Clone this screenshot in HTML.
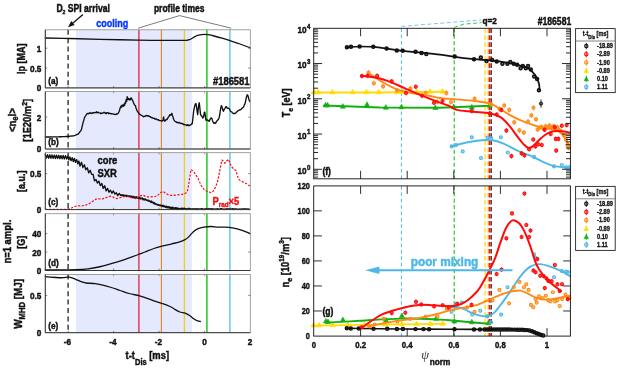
<!DOCTYPE html>
<html><head><meta charset="utf-8"><title>SPI disruption profiles #186581</title>
<style>html,body{margin:0;padding:0;background:#fff}svg{display:block}text{font-family:"Liberation Sans",Arial,sans-serif;font-weight:bold}</style>
</head><body>
<svg width="617" height="369" viewBox="0 0 617 369">
<rect width="617" height="369" fill="#fff"/>
<rect x="76.0" y="29.8" width="115.8" height="58.1" fill="#e5e9fd"/>
<line x1="138.9" x2="138.9" y1="29.8" y2="87.9" stroke="#e6304a" stroke-width="1.4"/>
<line x1="161.4" x2="161.4" y1="29.8" y2="87.9" stroke="#e6861e" stroke-width="1.15"/>
<line x1="184.4" x2="184.4" y1="29.8" y2="87.9" stroke="#e8d21c" stroke-width="1.35"/>
<line x1="206.9" x2="206.9" y1="29.8" y2="87.9" stroke="#32c832" stroke-width="1.6"/>
<line x1="229.9" x2="229.9" y1="29.8" y2="87.9" stroke="#64c8f0" stroke-width="1.5"/>
<line x1="68.1" x2="68.1" y1="29.8" y2="87.9" stroke="#222" stroke-width="1.3" stroke-dasharray="5 3.4"/>
<rect x="76.0" y="91.6" width="115.8" height="57.4" fill="#e5e9fd"/>
<line x1="138.9" x2="138.9" y1="91.6" y2="149.0" stroke="#e6304a" stroke-width="1.4"/>
<line x1="161.4" x2="161.4" y1="91.6" y2="149.0" stroke="#e6861e" stroke-width="1.15"/>
<line x1="184.4" x2="184.4" y1="91.6" y2="149.0" stroke="#e8d21c" stroke-width="1.35"/>
<line x1="206.9" x2="206.9" y1="91.6" y2="149.0" stroke="#32c832" stroke-width="1.6"/>
<line x1="229.9" x2="229.9" y1="91.6" y2="149.0" stroke="#64c8f0" stroke-width="1.5"/>
<line x1="68.1" x2="68.1" y1="91.6" y2="149.0" stroke="#222" stroke-width="1.3" stroke-dasharray="5 3.4"/>
<rect x="76.0" y="152.7" width="115.8" height="56.9" fill="#e5e9fd"/>
<line x1="138.9" x2="138.9" y1="152.7" y2="209.6" stroke="#e6304a" stroke-width="1.4"/>
<line x1="161.4" x2="161.4" y1="152.7" y2="209.6" stroke="#e6861e" stroke-width="1.15"/>
<line x1="184.4" x2="184.4" y1="152.7" y2="209.6" stroke="#e8d21c" stroke-width="1.35"/>
<line x1="206.9" x2="206.9" y1="152.7" y2="209.6" stroke="#32c832" stroke-width="1.6"/>
<line x1="229.9" x2="229.9" y1="152.7" y2="209.6" stroke="#64c8f0" stroke-width="1.5"/>
<line x1="68.1" x2="68.1" y1="152.7" y2="209.6" stroke="#222" stroke-width="1.3" stroke-dasharray="5 3.4"/>
<rect x="76.0" y="213.7" width="115.8" height="56.8" fill="#e5e9fd"/>
<line x1="138.9" x2="138.9" y1="213.7" y2="270.5" stroke="#e6304a" stroke-width="1.4"/>
<line x1="161.4" x2="161.4" y1="213.7" y2="270.5" stroke="#e6861e" stroke-width="1.15"/>
<line x1="184.4" x2="184.4" y1="213.7" y2="270.5" stroke="#e8d21c" stroke-width="1.35"/>
<line x1="206.9" x2="206.9" y1="213.7" y2="270.5" stroke="#32c832" stroke-width="1.6"/>
<line x1="229.9" x2="229.9" y1="213.7" y2="270.5" stroke="#64c8f0" stroke-width="1.5"/>
<line x1="68.1" x2="68.1" y1="213.7" y2="270.5" stroke="#222" stroke-width="1.3" stroke-dasharray="5 3.4"/>
<rect x="76.0" y="274.4" width="115.8" height="58.3" fill="#e5e9fd"/>
<line x1="138.9" x2="138.9" y1="274.4" y2="332.7" stroke="#e6304a" stroke-width="1.4"/>
<line x1="161.4" x2="161.4" y1="274.4" y2="332.7" stroke="#e6861e" stroke-width="1.15"/>
<line x1="184.4" x2="184.4" y1="274.4" y2="332.7" stroke="#e8d21c" stroke-width="1.35"/>
<line x1="206.9" x2="206.9" y1="274.4" y2="332.7" stroke="#32c832" stroke-width="1.6"/>
<line x1="229.9" x2="229.9" y1="274.4" y2="332.7" stroke="#64c8f0" stroke-width="1.5"/>
<line x1="68.1" x2="68.1" y1="274.4" y2="332.7" stroke="#222" stroke-width="1.3" stroke-dasharray="5 3.4"/>
<path d="M45.3,38.0 C49.4,38.1 60.9,38.3 70.0,38.5 C79.1,38.7 88.7,39.0 100.0,39.3 C111.3,39.6 126.3,39.9 138.0,40.1 C149.7,40.3 162.3,40.3 170.0,40.3 C177.7,40.3 181.0,40.3 184.0,40.3 C187.0,40.2 186.8,40.2 188.0,40.0 C189.2,39.8 190.0,39.5 191.0,39.0 C192.0,38.5 193.0,37.8 194.0,37.2 C195.0,36.7 196.0,36.1 197.0,35.7 C198.0,35.3 198.9,35.0 200.0,34.8 C201.1,34.6 202.5,34.4 203.8,34.4 C205.1,34.4 206.3,34.4 208.0,34.7 C209.7,35.0 211.7,35.4 214.0,36.0 C216.3,36.6 219.3,37.4 222.0,38.2 C224.7,39.0 227.0,39.7 230.0,40.7 C233.0,41.7 236.6,42.8 240.0,44.0 C243.4,45.2 248.5,47.2 250.2,47.8" fill="none" stroke="#111" stroke-width="1.3" stroke-linecap="round" />
<path d="M45.3,137.0 L45.8,137.0 L46.4,137.0 L46.9,137.0 L47.5,137.0 L48.0,137.0 L48.6,137.0 L49.1,137.0 L49.7,137.0 L50.2,136.9 L50.8,136.9 L51.3,136.9 L51.9,136.9 L52.4,136.9 L53.0,136.9 L53.5,136.9 L54.1,136.9 L54.6,136.9 L55.2,136.9 L55.7,136.9 L56.3,136.9 L56.8,136.8 L57.4,136.8 L57.9,136.8 L58.5,136.8 L59.0,136.8 L59.6,136.7 L60.1,136.7 L60.7,136.7 L61.2,136.7 L61.8,136.7 L62.3,136.6 L62.9,136.6 L63.4,136.6 L64.0,136.6 L64.5,136.6 L65.1,136.6 L65.6,136.5 L66.2,136.5 L66.7,136.5 L67.3,136.4 L67.8,136.4 L68.4,136.3 L68.9,136.3 L69.5,136.2 L70.0,136.2 L70.6,136.1 L71.1,136.1 L71.7,136.0 L72.2,136.0 L72.8,135.9 L73.3,135.9 L73.9,135.8 L74.4,135.6 L75.0,135.4 L75.5,135.1 L76.1,134.9 L76.6,134.7 L77.2,134.5 L77.7,134.2 L78.3,134.0 L78.8,133.3 L79.4,132.5 L79.9,131.8 L80.5,131.1 L81.0,130.4 L81.6,129.0 L82.1,126.6 L82.7,124.1 L83.2,122.1 L83.8,120.2 L84.3,118.3 L84.9,116.9 L85.4,116.1 L86.0,115.3 L86.5,114.2 L87.1,113.9 L87.6,113.4 L88.2,113.4 L88.7,113.8 L89.3,113.2 L89.8,112.7 L90.4,113.4 L90.9,113.0 L91.5,113.1 L92.0,113.5 L92.6,112.8 L93.1,112.9 L93.7,112.5 L94.2,112.8 L94.8,112.6 L95.3,112.7 L95.9,112.4 L96.4,111.8 L97.0,112.8 L97.5,112.7 L98.1,112.1 L98.6,112.7 L99.2,112.8 L99.7,112.9 L100.3,112.9 L100.8,113.7 L101.4,113.2 L101.9,113.2 L102.5,113.2 L103.0,112.9 L103.6,112.9 L104.1,112.3 L104.7,112.9 L105.2,112.8 L105.8,113.5 L106.3,113.5 L106.9,112.7 L107.4,112.7 L108.0,112.7 L108.5,113.6 L109.1,113.2 L109.6,113.5 L110.2,113.4 L110.7,113.7 L111.3,113.7 L111.8,113.7 L112.4,113.9 L112.9,113.9 L113.5,114.2 L114.0,114.1 L114.6,114.4 L115.1,114.4 L115.7,114.5 L116.2,114.3 L116.8,113.8 L117.3,114.0 L117.9,113.7 L118.4,112.9 L119.0,111.7 L119.5,110.5 L120.1,108.1 L120.6,107.0 L121.2,105.8 L121.7,107.2 L122.3,105.0 L122.8,105.8 L123.4,106.2 L123.9,104.1 L124.5,105.6 L125.0,102.8 L125.6,103.2 L126.1,99.6 L126.7,101.4 L127.2,96.7 L127.8,99.3 L128.3,98.4 L128.9,99.7 L129.4,99.9 L130.0,98.6 L130.5,99.7 L131.1,97.8 L131.6,98.6 L132.2,99.9 L132.7,100.5 L133.3,102.3 L133.8,103.4 L134.4,104.6 L134.9,105.4 L135.5,105.8 L136.0,108.0 L136.6,109.4 L137.1,110.8 L137.7,112.0 L138.2,111.9 L138.8,113.3 L139.3,114.1 L139.9,114.3 L140.4,114.7 L141.0,115.0 L141.5,115.4 L142.1,115.7 L142.6,116.0 L143.2,116.5 L143.7,116.8 L144.3,116.3 L144.8,116.2 L145.4,116.2 L145.9,115.6 L146.5,115.4 L147.0,115.9 L147.6,115.7 L148.1,116.1 L148.7,115.8 L149.2,116.4 L149.8,116.8 L150.4,116.6 L150.9,117.4 L151.5,117.7 L152.0,117.5 L152.6,118.1 L153.1,118.1 L153.7,118.4 L154.2,118.3 L154.8,118.9 L155.3,119.2 L155.9,118.9 L156.4,119.0 L157.0,119.6 L157.5,119.9 L158.1,119.6 L158.6,120.1 L159.2,120.5 L159.7,120.5 L160.3,120.6 L160.8,120.6 L161.4,120.8 L161.9,121.1 L162.5,121.1 L163.0,119.9 L163.6,117.0 L164.1,120.1 L164.7,121.1 L165.2,120.9 L165.8,119.9 L166.3,119.4 L166.9,119.7 L167.4,118.8 L168.0,117.7 L168.5,116.9 L169.1,116.3 L169.6,114.9 L170.2,114.6 L170.7,115.2 L171.3,114.6 L171.8,113.3 L172.4,115.5 L172.9,116.8 L173.5,118.9 L174.0,120.0 L174.6,121.0 L175.1,121.3 L175.7,121.6 L176.2,122.1 L176.8,122.5 L177.3,122.2 L177.9,122.8 L178.4,122.9 L179.0,122.4 L179.5,122.6 L180.1,123.2 L180.6,123.2 L181.2,123.6 L181.7,123.4 L182.3,123.5 L182.8,123.9 L183.4,124.6 L183.9,124.3 L184.5,124.5 L185.0,124.8 L185.6,124.9 L186.1,124.9 L186.7,125.5 L187.2,124.9 L187.8,124.7 L188.3,125.6 L188.9,125.5 L189.4,125.5 L190.0,124.9 L190.5,125.0 L191.1,124.7 L191.6,123.7 L192.2,123.8 L192.7,120.1 L193.3,114.2 L193.8,110.0 L194.4,107.6 L194.9,105.3 L195.5,103.6 L196.0,103.6 L196.6,107.3 L197.1,111.4 L197.7,114.6 L198.2,109.4 L198.8,104.3 L199.3,102.8 L199.9,108.2 L200.4,113.5 L201.0,115.5 L201.5,115.9 L202.1,116.4 L202.6,118.0 L203.2,117.4 L203.7,116.1 L204.3,112.4 L204.8,112.1 L205.4,116.7 L205.9,120.1 L206.5,120.2 L207.0,120.0 L207.6,120.0 L208.1,120.7 L208.7,120.7 L209.2,121.3 L209.8,119.9 L210.3,118.9 L210.9,118.2 L211.4,117.9 L212.0,118.8 L212.5,120.7 L213.1,122.0 L213.6,123.1 L214.2,123.2 L214.7,122.7 L215.3,123.4 L215.8,123.1 L216.4,121.6 L216.9,121.1 L217.5,120.3 L218.0,119.8 L218.6,118.9 L219.1,117.7 L219.7,115.1 L220.2,111.3 L220.8,107.9 L221.3,105.7 L221.9,106.7 L222.4,108.4 L223.0,110.5 L223.5,111.3 L224.1,109.5 L224.6,108.8 L225.2,107.8 L225.7,106.9 L226.3,106.6 L226.8,107.6 L227.4,108.3 L227.9,108.2 L228.5,108.2 L229.0,108.6 L229.6,109.3 L230.1,110.5 L230.7,111.4 L231.2,111.7 L231.8,112.0 L232.3,112.7 L232.9,113.1 L233.4,113.5 L234.0,113.8 L234.5,113.3 L235.1,113.4 L235.6,113.0 L236.2,112.5 L236.7,111.9 L237.3,111.5 L237.8,111.2 L238.4,110.4 L238.9,110.4 L239.5,110.0 L240.0,109.7 L240.6,109.7 L241.1,109.4 L241.7,108.5 L242.2,108.3 L242.8,107.6 L243.3,107.2 L243.9,106.4 L244.4,104.7 L245.0,103.8 L245.5,101.5 L246.1,98.7 L246.6,96.5 L247.2,94.8 L247.7,95.1 L248.3,96.8 L248.8,99.0 L249.4,100.8 L249.9,101.6" fill="none" stroke="#111" stroke-width="1.35" stroke-linejoin="round" stroke-linecap="round" />
<path d="M45.3,154.6 L46.4,158.1 L47.5,154.7 L48.7,158.2 L49.8,154.8 L50.9,158.3 L52.0,154.9 L53.1,158.4 L54.3,155.1 L55.4,158.5 L56.5,155.2 L57.6,158.6 L58.7,155.3 L59.9,158.7 L61.0,155.4 L62.1,158.9 L63.2,155.5 L64.3,159.0 L65.5,155.6 L66.6,159.1 L67.7,156.1 L68.8,159.9 L69.9,156.9 L71.1,160.7 L72.2,157.7 L73.3,161.5 L74.4,158.5 L75.5,162.3 L76.7,159.6 L77.8,163.8 L78.9,161.1 L80.0,166.0 L81.5,162.3 L82.9,167.5 L84.4,164.8 L85.8,169.7 L87.3,167.8 L88.7,172.8 L90.2,170.3 L91.6,174.4 L93.1,174.3 L94.5,180.9 L96.0,179.4 L97.4,183.1 L98.9,181.1 L100.3,185.6 L101.8,183.5 L103.2,188.3 L104.7,185.8 L106.1,190.8 L107.6,188.4 L109.0,192.2 L110.5,190.2 L111.9,193.2 L113.4,190.9 L114.8,194.1 L116.3,192.7 L117.7,195.6 L119.2,193.4 L120.6,195.4 L121.4,194.8 L122.1,195.9 L122.9,194.6 L123.6,195.9 L124.4,195.2 L125.1,196.0 L125.9,195.1 L126.6,196.6 L127.4,195.5 L128.1,196.6 L128.9,195.7 L129.6,196.8 L130.4,195.9 L131.1,196.8 L131.9,196.1 L132.6,197.7 L133.4,196.4 L134.1,197.8 L134.9,196.8 L135.6,198.0 L136.4,196.7 L137.1,198.3 L137.9,197.1 L138.6,198.4 L139.4,197.2 L140.1,199.0 L140.9,198.0 L141.6,198.8 L142.4,198.0 L143.1,199.9 L143.9,198.7 L144.6,200.0 L145.4,199.0 L146.1,200.3 L146.9,199.8 L147.6,200.8 L148.4,200.1 L149.1,201.4 L149.9,200.9 L150.6,202.3 L151.4,201.0 L152.1,202.7 L152.9,202.0 L153.6,203.6 L154.4,202.6 L155.1,204.4 L155.9,203.7 L156.6,204.7 L157.4,204.4 L158.1,205.4 L158.9,204.6 L159.6,205.6 L160.4,205.0 L161.1,206.1 L161.9,205.1 L162.6,206.5 L163.4,205.4 L164.1,207.0 L164.9,206.0 L165.6,207.3 L166.4,206.1 L167.1,207.9 L167.9,206.6 L168.6,207.9 L169.4,206.7 L170.1,208.5 L170.9,207.2 L171.6,208.6 L172.4,207.0 L173.1,208.6 L173.9,207.8 L174.6,208.6 L175.4,207.6 L176.1,209.2 L176.9,207.6 L177.6,209.5 L178.4,208.3 L179.1,209.1 L179.9,208.4 L180.6,209.1 L181.4,208.1 L182.1,209.5 L182.9,208.1 L183.6,209.4 L184.4,208.2 L185.1,209.4 L185.9,208.5 L186.6,209.5 L187.4,208.7 L188.1,209.3 L188.9,208.2 L189.6,209.4 L190.4,208.8 L191.1,209.3 L191.9,208.7 L192.6,209.0 L193.4,208.8 L194.1,209.2 L194.9,208.8 L195.6,209.1 L196.4,208.7 L197.1,209.5 L197.9,208.8 L198.6,209.3 L199.4,209.0 L200.1,209.2 L200.9,208.7 L201.6,209.1 L202.4,208.6 L203.1,209.5 L203.9,209.0 L204.6,209.5 L205.4,208.8 L206.1,209.4 L206.9,208.7 L207.6,209.2 L208.4,208.7 L209.1,209.4 L209.9,208.6 L210.6,209.2 L211.4,208.7 L212.1,209.5 L212.9,208.7 L213.6,209.3 L214.4,209.0 L215.1,209.3 L215.9,208.9 L216.6,209.4 L217.4,208.7 L218.1,209.3 L218.9,209.0 L219.6,209.4 L220.4,208.7 L221.1,209.1 L221.9,208.6 L222.6,209.4 L223.4,209.0 L224.1,209.5 L224.9,209.0 L225.6,209.2 L226.4,208.7 L227.1,209.4 L227.9,208.8 L228.6,209.4 L229.4,208.8 L230.1,209.2 L230.9,209.0 L231.6,209.1 L232.4,208.7 L233.1,209.5 L233.9,208.8 L234.6,209.4 L235.4,208.9 L236.1,209.2 L236.9,208.9 L237.6,209.5 L238.4,209.1 L239.1,209.3 L239.9,209.0 L240.6,209.5 L241.4,208.9 L242.1,209.3 L242.9,208.9 L243.6,209.4 L244.4,208.7 L245.1,209.3 L245.9,208.7 L246.6,209.2 L247.4,209.0 L248.1,209.1 L248.9,209.0 L249.6,209.5" fill="none" stroke="#111" stroke-width="1.35" stroke-linejoin="round" stroke-linecap="round" />
<path d="M45.3,209.4 L60.0,209.4 L66.7,209.3 L69.0,208.9 L72.0,207.8 L74.5,206.6 L77.4,205.7 L80.0,205.9 L82.8,205.7 L85.5,205.1 L88.1,204.3 L91.0,202.5 L93.5,200.7 L95.5,199.4 L97.0,198.6 L99.5,198.9 L102.4,198.9 L105.0,198.0 L107.7,197.1 L109.5,196.4 L111.3,196.2 L114.0,197.6 L116.6,198.6 L119.3,197.9 L122.0,197.1 L124.5,196.5 L127.3,196.2 L130.0,197.1 L132.7,198.0 L136.3,198.9 L138.0,197.6 L139.8,196.2 L142.5,195.0 L145.0,196.1 L147.0,196.8 L150.3,196.8 L153.5,196.6 L156.6,196.2 L158.5,194.6 L160.2,192.7 L162.8,191.4 L165.5,193.2 L167.5,194.4 L170.0,195.3 L173.5,195.3 L177.1,195.0 L180.5,194.6 L184.2,193.9 L186.0,192.9 L187.4,190.9 L188.3,186.5 L189.2,181.1 L190.1,175.0 L191.0,169.5 L192.4,170.6 L194.0,172.2 L195.8,174.8 L197.6,177.5 L199.4,181.5 L201.1,185.5 L202.9,188.0 L204.7,190.0 L206.5,191.0 L208.3,191.8 L211.3,192.7 L213.0,191.4 L214.5,189.1 L215.9,186.3 L217.2,182.9 L218.4,177.5 L219.5,172.2 L220.7,166.0 L222.0,160.0 L223.4,161.3 L224.9,163.3 L226.6,161.2 L228.4,159.3 L229.9,162.8 L231.5,166.8 L233.6,168.8 L235.9,170.4 L237.2,174.8 L238.6,179.3 L240.8,180.9 L243.0,182.0 L246.6,183.8 L250.0,186.1" fill="none" stroke="#ff0a0a" stroke-width="1.2" stroke-linejoin="round" stroke-linecap="butt" stroke-dasharray="2.2 1.5"/>
<path d="M45.3,270.0 C47.8,270.0 55.0,270.0 60.0,269.9 C65.0,269.8 70.9,269.8 75.6,269.6 C80.3,269.4 84.2,269.2 88.1,268.8 C92.0,268.4 94.9,267.9 98.8,267.0 C102.7,266.1 107.1,264.9 111.3,263.7 C115.5,262.5 120.2,261.1 123.8,259.9 C127.4,258.7 130.0,257.7 132.7,256.7 C135.4,255.7 137.8,254.7 139.8,253.9 C141.9,253.1 142.7,252.9 145.0,252.0 C147.3,251.1 151.1,249.5 153.9,248.5 C156.7,247.5 158.9,247.0 161.9,246.2 C164.9,245.4 168.9,244.6 171.7,243.9 C174.5,243.2 176.7,242.8 178.9,242.1 C181.1,241.4 183.5,240.5 185.1,239.6 C186.7,238.7 187.4,238.2 188.7,236.9 C190.0,235.6 191.6,233.2 193.1,231.9 C194.6,230.6 195.8,229.7 197.6,228.9 C199.4,228.1 201.6,227.5 203.8,227.1 C206.0,226.7 208.6,226.5 211.0,226.5 C213.4,226.5 215.7,227.1 218.1,227.2 C220.5,227.3 222.8,227.1 225.2,227.2 C227.6,227.3 229.9,227.4 232.3,227.8 C234.7,228.2 237.4,229.0 239.5,229.6 C241.6,230.2 243.0,230.7 244.8,231.4 C246.6,232.1 249.3,233.2 250.2,233.6" fill="none" stroke="#111" stroke-width="1.3" stroke-linecap="round" />
<path d="M45.3,276.6 C47.1,276.8 53.0,277.3 56.0,277.5 C59.0,277.7 61.0,277.8 63.2,277.7 C65.4,277.6 67.3,276.9 69.4,277.2 C71.5,277.5 73.5,278.5 75.6,279.3 C77.7,280.1 80.1,281.2 81.9,281.8 C83.7,282.4 84.4,282.7 86.3,283.0 C88.2,283.3 91.1,283.2 93.5,283.5 C95.9,283.8 97.6,283.9 100.6,284.6 C103.6,285.3 108.0,286.5 111.3,287.5 C114.6,288.5 117.2,289.5 120.2,290.5 C123.2,291.5 126.0,292.6 129.1,293.5 C132.2,294.4 136.2,294.9 138.9,295.6 C141.6,296.3 142.5,296.7 145.0,297.6 C147.5,298.5 151.1,299.8 153.9,300.8 C156.7,301.8 159.2,302.4 161.9,303.4 C164.6,304.3 167.8,305.5 170.0,306.5 C172.2,307.5 173.7,308.7 175.3,309.6 C176.9,310.5 178.2,311.4 179.8,312.0 C181.4,312.6 183.5,312.5 185.1,313.1 C186.7,313.7 188.1,314.5 189.6,315.5 C191.1,316.5 192.7,318.1 194.0,319.0 C195.3,319.9 196.5,320.4 197.6,320.8 C198.7,321.2 199.9,321.4 200.3,321.5" fill="none" stroke="#111" stroke-width="1.3" stroke-linecap="round" />
<rect x="45.3" y="29.8" width="205.0" height="58.1" fill="none" stroke="#8a8a8a" stroke-width="0.8"/>
<path d="M45.3,29.8 V87.9 H250.3" fill="none" stroke="#2a2a2a" stroke-width="0.9"/>
<line x1="68.1" x2="68.1" y1="87.9" y2="86.10000000000001" stroke="#333" stroke-width="0.6"/>
<line x1="113.6" x2="113.6" y1="87.9" y2="86.10000000000001" stroke="#333" stroke-width="0.6"/>
<line x1="159.1" x2="159.1" y1="87.9" y2="86.10000000000001" stroke="#333" stroke-width="0.6"/>
<line x1="204.6" x2="204.6" y1="87.9" y2="86.10000000000001" stroke="#333" stroke-width="0.6"/>
<rect x="45.3" y="91.6" width="205.0" height="57.4" fill="none" stroke="#8a8a8a" stroke-width="0.8"/>
<path d="M45.3,91.6 V149.0 H250.3" fill="none" stroke="#2a2a2a" stroke-width="0.9"/>
<line x1="68.1" x2="68.1" y1="149.0" y2="147.2" stroke="#333" stroke-width="0.6"/>
<line x1="68.1" x2="68.1" y1="91.6" y2="93.39999999999999" stroke="#555" stroke-width="0.5"/>
<line x1="113.6" x2="113.6" y1="149.0" y2="147.2" stroke="#333" stroke-width="0.6"/>
<line x1="113.6" x2="113.6" y1="91.6" y2="93.39999999999999" stroke="#555" stroke-width="0.5"/>
<line x1="159.1" x2="159.1" y1="149.0" y2="147.2" stroke="#333" stroke-width="0.6"/>
<line x1="159.1" x2="159.1" y1="91.6" y2="93.39999999999999" stroke="#555" stroke-width="0.5"/>
<line x1="204.6" x2="204.6" y1="149.0" y2="147.2" stroke="#333" stroke-width="0.6"/>
<line x1="204.6" x2="204.6" y1="91.6" y2="93.39999999999999" stroke="#555" stroke-width="0.5"/>
<rect x="45.3" y="152.7" width="205.0" height="56.9" fill="none" stroke="#8a8a8a" stroke-width="0.8"/>
<path d="M45.3,152.7 V209.6 H250.3" fill="none" stroke="#2a2a2a" stroke-width="0.9"/>
<line x1="68.1" x2="68.1" y1="209.6" y2="207.79999999999998" stroke="#333" stroke-width="0.6"/>
<line x1="68.1" x2="68.1" y1="152.7" y2="154.5" stroke="#555" stroke-width="0.5"/>
<line x1="113.6" x2="113.6" y1="209.6" y2="207.79999999999998" stroke="#333" stroke-width="0.6"/>
<line x1="113.6" x2="113.6" y1="152.7" y2="154.5" stroke="#555" stroke-width="0.5"/>
<line x1="159.1" x2="159.1" y1="209.6" y2="207.79999999999998" stroke="#333" stroke-width="0.6"/>
<line x1="159.1" x2="159.1" y1="152.7" y2="154.5" stroke="#555" stroke-width="0.5"/>
<line x1="204.6" x2="204.6" y1="209.6" y2="207.79999999999998" stroke="#333" stroke-width="0.6"/>
<line x1="204.6" x2="204.6" y1="152.7" y2="154.5" stroke="#555" stroke-width="0.5"/>
<rect x="45.3" y="213.7" width="205.0" height="56.8" fill="none" stroke="#8a8a8a" stroke-width="0.8"/>
<path d="M45.3,213.7 V270.5 H250.3" fill="none" stroke="#2a2a2a" stroke-width="0.9"/>
<line x1="68.1" x2="68.1" y1="270.5" y2="268.7" stroke="#333" stroke-width="0.6"/>
<line x1="68.1" x2="68.1" y1="213.7" y2="215.5" stroke="#555" stroke-width="0.5"/>
<line x1="113.6" x2="113.6" y1="270.5" y2="268.7" stroke="#333" stroke-width="0.6"/>
<line x1="113.6" x2="113.6" y1="213.7" y2="215.5" stroke="#555" stroke-width="0.5"/>
<line x1="159.1" x2="159.1" y1="270.5" y2="268.7" stroke="#333" stroke-width="0.6"/>
<line x1="159.1" x2="159.1" y1="213.7" y2="215.5" stroke="#555" stroke-width="0.5"/>
<line x1="204.6" x2="204.6" y1="270.5" y2="268.7" stroke="#333" stroke-width="0.6"/>
<line x1="204.6" x2="204.6" y1="213.7" y2="215.5" stroke="#555" stroke-width="0.5"/>
<rect x="45.3" y="274.4" width="205.0" height="58.3" fill="none" stroke="#8a8a8a" stroke-width="0.8"/>
<path d="M45.3,274.4 V332.7 H250.3" fill="none" stroke="#2a2a2a" stroke-width="0.9"/>
<line x1="68.1" x2="68.1" y1="332.7" y2="330.9" stroke="#333" stroke-width="0.6"/>
<line x1="68.1" x2="68.1" y1="274.4" y2="276.2" stroke="#555" stroke-width="0.5"/>
<line x1="113.6" x2="113.6" y1="332.7" y2="330.9" stroke="#333" stroke-width="0.6"/>
<line x1="113.6" x2="113.6" y1="274.4" y2="276.2" stroke="#555" stroke-width="0.5"/>
<line x1="159.1" x2="159.1" y1="332.7" y2="330.9" stroke="#333" stroke-width="0.6"/>
<line x1="159.1" x2="159.1" y1="274.4" y2="276.2" stroke="#555" stroke-width="0.5"/>
<line x1="204.6" x2="204.6" y1="332.7" y2="330.9" stroke="#333" stroke-width="0.6"/>
<line x1="204.6" x2="204.6" y1="274.4" y2="276.2" stroke="#555" stroke-width="0.5"/>
<line x1="45.3" x2="47.3" y1="48.2" y2="48.2" stroke="#333" stroke-width="0.6"/>
<line x1="250.3" x2="248.3" y1="48.2" y2="48.2" stroke="#333" stroke-width="0.6"/>
<text transform="translate(41.40,51.65) scale(0.845,1)" font-size="9.7" text-anchor="end" fill="#111" stroke="#111" stroke-width="0.45" >1</text>
<line x1="45.3" x2="47.3" y1="68.1" y2="68.1" stroke="#333" stroke-width="0.6"/>
<line x1="250.3" x2="248.3" y1="68.1" y2="68.1" stroke="#333" stroke-width="0.6"/>
<text transform="translate(41.40,71.55) scale(0.845,1)" font-size="9.7" text-anchor="end" fill="#111" stroke="#111" stroke-width="0.45" >0.5</text>
<text transform="translate(41.40,91.35) scale(0.845,1)" font-size="9.7" text-anchor="end" fill="#111" stroke="#111" stroke-width="0.45" >0</text>
<line x1="45.3" x2="47.3" y1="117.1" y2="117.1" stroke="#333" stroke-width="0.6"/>
<line x1="250.3" x2="248.3" y1="117.1" y2="117.1" stroke="#333" stroke-width="0.6"/>
<text transform="translate(41.40,120.55) scale(0.845,1)" font-size="9.7" text-anchor="end" fill="#111" stroke="#111" stroke-width="0.45" >2</text>
<text transform="translate(41.40,152.45) scale(0.845,1)" font-size="9.7" text-anchor="end" fill="#111" stroke="#111" stroke-width="0.45" >0</text>
<line x1="45.3" x2="47.3" y1="173.6" y2="173.6" stroke="#333" stroke-width="0.6"/>
<line x1="250.3" x2="248.3" y1="173.6" y2="173.6" stroke="#333" stroke-width="0.6"/>
<text transform="translate(41.40,177.05) scale(0.845,1)" font-size="9.7" text-anchor="end" fill="#111" stroke="#111" stroke-width="0.45" >0.5</text>
<text transform="translate(41.40,213.05) scale(0.845,1)" font-size="9.7" text-anchor="end" fill="#111" stroke="#111" stroke-width="0.45" >0</text>
<line x1="45.3" x2="47.3" y1="233.6" y2="233.6" stroke="#333" stroke-width="0.6"/>
<line x1="250.3" x2="248.3" y1="233.6" y2="233.6" stroke="#333" stroke-width="0.6"/>
<text transform="translate(41.40,237.05) scale(0.845,1)" font-size="9.7" text-anchor="end" fill="#111" stroke="#111" stroke-width="0.45" >40</text>
<line x1="45.3" x2="47.3" y1="252.1" y2="252.1" stroke="#333" stroke-width="0.6"/>
<line x1="250.3" x2="248.3" y1="252.1" y2="252.1" stroke="#333" stroke-width="0.6"/>
<text transform="translate(41.40,255.55) scale(0.845,1)" font-size="9.7" text-anchor="end" fill="#111" stroke="#111" stroke-width="0.45" >20</text>
<text transform="translate(41.40,273.95) scale(0.845,1)" font-size="9.7" text-anchor="end" fill="#111" stroke="#111" stroke-width="0.45" >0</text>
<line x1="45.3" x2="47.3" y1="295.4" y2="295.4" stroke="#333" stroke-width="0.6"/>
<line x1="250.3" x2="248.3" y1="295.4" y2="295.4" stroke="#333" stroke-width="0.6"/>
<text transform="translate(41.40,298.85) scale(0.845,1)" font-size="9.7" text-anchor="end" fill="#111" stroke="#111" stroke-width="0.45" >0.5</text>
<text transform="translate(41.40,336.15) scale(0.845,1)" font-size="9.7" text-anchor="end" fill="#111" stroke="#111" stroke-width="0.45" >0</text>
<text transform="translate(67.50,345.45) scale(0.845,1)" font-size="9.7" text-anchor="middle" fill="#111" stroke="#111" stroke-width="0.45" >-6</text>
<text transform="translate(113.00,345.45) scale(0.845,1)" font-size="9.7" text-anchor="middle" fill="#111" stroke="#111" stroke-width="0.45" >-4</text>
<text transform="translate(158.50,345.45) scale(0.845,1)" font-size="9.7" text-anchor="middle" fill="#111" stroke="#111" stroke-width="0.45" >-2</text>
<text transform="translate(204.60,345.45) scale(0.845,1)" font-size="9.7" text-anchor="middle" fill="#111" stroke="#111" stroke-width="0.45" >0</text>
<text transform="translate(250.10,345.45) scale(0.845,1)" font-size="9.7" text-anchor="middle" fill="#111" stroke="#111" stroke-width="0.45" >2</text>
<text transform="translate(48.20,83.75) scale(0.845,1)" font-size="9.7" text-anchor="start" fill="#111" stroke="#111" stroke-width="0.45" >(a)</text>
<text transform="translate(48.20,144.85) scale(0.845,1)" font-size="9.7" text-anchor="start" fill="#111" stroke="#111" stroke-width="0.45" >(b)</text>
<text transform="translate(48.20,205.45) scale(0.845,1)" font-size="9.7" text-anchor="start" fill="#111" stroke="#111" stroke-width="0.45" >(c)</text>
<text transform="translate(48.20,266.35) scale(0.845,1)" font-size="9.7" text-anchor="start" fill="#111" stroke="#111" stroke-width="0.45" >(d)</text>
<text transform="translate(48.20,328.55) scale(0.845,1)" font-size="9.7" text-anchor="start" fill="#111" stroke="#111" stroke-width="0.45" >(e)</text>
<text transform="translate(24.60,58.85) rotate(-90) scale(0.843,1)" font-size="10.7" text-anchor="middle" fill="#111" stroke="#111" stroke-width="0.45" >Ip [MA]</text>
<text transform="translate(16.40,120.05) rotate(-90) scale(0.863,1)" font-size="11.2" text-anchor="middle" fill="#111" stroke="#111" stroke-width="0.45" >&lt;n<tspan font-size="8.5" dy="1.8">e</tspan><tspan dy="-1.8">l&gt;</tspan></text>
<text transform="translate(30.60,120.25) rotate(-90) scale(0.874,1)" font-size="10.7" text-anchor="middle" fill="#111" stroke="#111" stroke-width="0.45" >[1E20/m<tspan font-size="8" dy="-4">2</tspan><tspan dy="4">]</tspan></text>
<text transform="translate(24.60,181.25) rotate(-90) scale(0.843,1)" font-size="10.7" text-anchor="middle" fill="#111" stroke="#111" stroke-width="0.45" >[a.u.]</text>
<text transform="translate(10.80,241.65) rotate(-90) scale(0.886,1)" font-size="10.7" text-anchor="middle" fill="#111" stroke="#111" stroke-width="0.45" >n=1 ampl.</text>
<text transform="translate(24.60,242.25) rotate(-90) scale(0.843,1)" font-size="10.7" text-anchor="middle" fill="#111" stroke="#111" stroke-width="0.45" >[G]</text>
<text transform="translate(21.50,303.85) rotate(-90) scale(0.851,1)" font-size="11.7" text-anchor="middle" fill="#111" stroke="#111" stroke-width="0.45" >W<tspan font-size="9" dy="3.2">MHD</tspan><tspan dy="-3.2"> [MJ]</tspan></text>
<text transform="translate(125.60,359.05) scale(0.879,1)" font-size="10.7" text-anchor="start" fill="#111" stroke="#111" stroke-width="0.45" >t-t<tspan font-size="8.5" dy="6">Dis</tspan><tspan dy="-6"> [ms]</tspan></text>
<text transform="translate(56.40,12.45) scale(0.844,1)" font-size="10.2" text-anchor="start" fill="#111" stroke="#111" stroke-width="0.45" >D<tspan font-size="6" dy="2">2</tspan><tspan dy="-2"> SPI arrival</tspan></text>
<text transform="translate(96.20,26.85) scale(0.843,1)" font-size="10.7" text-anchor="start" fill="#0a38ff" stroke="#0a38ff" stroke-width="0.45" >cooling</text>
<text transform="translate(153.90,12.45) scale(0.844,1)" font-size="10.1" text-anchor="start" fill="#111" stroke="#111" stroke-width="0.45" >profile times</text>
<path d="M138.1,28.2 L179.5,15.6 L231.3,28.2" fill="none" stroke="#444" stroke-width="0.7"/>
<line x1="82.9" y1="14.6" x2="71.0" y2="24.7" stroke="#111" stroke-width="1.3"/>
<path d="M68.0,27.3 L74.6,24.9 L71.3,21.1 Z" fill="#111"/>
<text transform="translate(249.60,85.35) scale(0.842,1)" font-size="11.2" text-anchor="end" fill="#111" stroke="#111" stroke-width="0.45" >#186581</text>
<text transform="translate(97.40,163.55) scale(0.842,1)" font-size="11.2" text-anchor="start" fill="#111" stroke="#111" stroke-width="0.45" >core</text>
<text transform="translate(97.40,177.45) scale(0.842,1)" font-size="11.2" text-anchor="start" fill="#111" stroke="#111" stroke-width="0.45" >SXR</text>
<text transform="translate(212.40,205.05) scale(0.842,1)" font-size="11.2" text-anchor="start" fill="#f01414" stroke="#f01414" stroke-width="0.45" >P<tspan font-size="7.5" dy="1.8">rad</tspan><tspan dy="-1.8">×5</tspan></text>
<line x1="401.4" x2="401.4" y1="28.3" y2="178.8" stroke="#4db7e8" stroke-width="1.0" stroke-dasharray="3.6 2.8"/>
<line x1="454.2" x2="454.2" y1="28.3" y2="178.8" stroke="#12b012" stroke-width="1.0" stroke-dasharray="4 2.4"/>
<line x1="485.1" x2="485.1" y1="28.3" y2="178.8" stroke="#ffdc00" stroke-width="1.3" stroke-dasharray="4.6 2.4"/>
<line x1="488.3" x2="488.3" y1="28.3" y2="178.8" stroke="#ff8a14" stroke-width="1.1" stroke-dasharray="4.6 2.4"/>
<line x1="489.7" x2="489.7" y1="28.3" y2="178.8" stroke="#ff0a0a" stroke-width="1.3" stroke-dasharray="4.6 2.4"/>
<line x1="491.2" x2="491.2" y1="28.3" y2="178.8" stroke="#3a0c0c" stroke-width="1.2" stroke-dasharray="4.6 2.4"/>
<line x1="401.4" x2="401.4" y1="185.9" y2="336.1" stroke="#4db7e8" stroke-width="1.0" stroke-dasharray="3.6 2.8"/>
<line x1="454.2" x2="454.2" y1="185.9" y2="336.1" stroke="#12b012" stroke-width="1.0" stroke-dasharray="4 2.4"/>
<line x1="485.1" x2="485.1" y1="185.9" y2="336.1" stroke="#ffdc00" stroke-width="1.3" stroke-dasharray="4.6 2.4"/>
<line x1="488.3" x2="488.3" y1="185.9" y2="336.1" stroke="#ff8a14" stroke-width="1.1" stroke-dasharray="4.6 2.4"/>
<line x1="489.7" x2="489.7" y1="185.9" y2="336.1" stroke="#ff0a0a" stroke-width="1.3" stroke-dasharray="4.6 2.4"/>
<line x1="491.2" x2="491.2" y1="185.9" y2="336.1" stroke="#3a0c0c" stroke-width="1.2" stroke-dasharray="4.6 2.4"/>
<path d="M311.9,92.6 L380.0,92.4 L445.2,91.8" fill="none" stroke="#ffdc00" stroke-width="2.0" stroke-linejoin="round" stroke-linecap="round" />
<path d="M314.3,89.4 L316.8,93.9 L311.8,93.9 Z" fill="#ffdc00" stroke="#ffdc00" stroke-width="0.6" stroke-linejoin="round"/>
<path d="M318.2,89.4 L320.7,93.9 L315.7,93.9 Z" fill="#ffdc00" stroke="#ffdc00" stroke-width="0.6" stroke-linejoin="round"/>
<path d="M332.4,89.3 L334.9,93.9 L329.9,93.9 Z" fill="#ffdc00" stroke="#ffdc00" stroke-width="0.6" stroke-linejoin="round"/>
<path d="M352.5,89.3 L355.0,93.8 L350.0,93.8 Z" fill="#ffdc00" stroke="#ffdc00" stroke-width="0.6" stroke-linejoin="round"/>
<path d="M366.4,89.2 L368.9,93.8 L363.9,93.8 Z" fill="#ffdc00" stroke="#ffdc00" stroke-width="0.6" stroke-linejoin="round"/>
<path d="M378.7,89.2 L381.2,93.8 L376.2,93.8 Z" fill="#ffdc00" stroke="#ffdc00" stroke-width="0.6" stroke-linejoin="round"/>
<path d="M397.0,89.0 L399.5,93.6 L394.5,93.6 Z" fill="#ffdc00" stroke="#ffdc00" stroke-width="0.6" stroke-linejoin="round"/>
<path d="M402.4,89.0 L404.9,93.5 L399.9,93.5 Z" fill="#ffdc00" stroke="#ffdc00" stroke-width="0.6" stroke-linejoin="round"/>
<path d="M416.6,88.9 L419.1,93.4 L414.1,93.4 Z" fill="#ffdc00" stroke="#ffdc00" stroke-width="0.6" stroke-linejoin="round"/>
<path d="M430.0,88.7 L432.5,93.3 L427.5,93.3 Z" fill="#ffdc00" stroke="#ffdc00" stroke-width="0.6" stroke-linejoin="round"/>
<path d="M442.5,88.6 L445.0,93.2 L440.0,93.2 Z" fill="#ffdc00" stroke="#ffdc00" stroke-width="0.6" stroke-linejoin="round"/>
<path d="M324.2,105.6 L380.0,107.4 L440.0,107.7 L489.8,105.8" fill="none" stroke="#12b012" stroke-width="2.0" stroke-linejoin="round" stroke-linecap="round" />
<path d="M325.6,102.3 L328.1,106.9 L323.1,106.9 Z" fill="#12b012" stroke="#12b012" stroke-width="0.6" stroke-linejoin="round"/>
<path d="M327.6,102.4 L330.1,107.0 L325.1,107.0 Z" fill="#12b012" stroke="#12b012" stroke-width="0.6" stroke-linejoin="round"/>
<path d="M342.8,103.6 L345.3,108.2 L340.3,108.2 Z" fill="#12b012" stroke="#12b012" stroke-width="0.6" stroke-linejoin="round"/>
<path d="M367.0,101.8 L369.5,106.4 L364.5,106.4 Z" fill="#12b012" stroke="#12b012" stroke-width="0.6" stroke-linejoin="round"/>
<path d="M385.8,104.6 L388.3,109.2 L383.3,109.2 Z" fill="#12b012" stroke="#12b012" stroke-width="0.6" stroke-linejoin="round"/>
<path d="M401.5,104.2 L404.0,108.8 L399.0,108.8 Z" fill="#12b012" stroke="#12b012" stroke-width="0.6" stroke-linejoin="round"/>
<path d="M435.4,105.0 L437.9,109.5 L432.9,109.5 Z" fill="#12b012" stroke="#12b012" stroke-width="0.6" stroke-linejoin="round"/>
<path d="M453.8,104.0 L456.3,108.5 L451.3,108.5 Z" fill="#12b012" stroke="#12b012" stroke-width="0.6" stroke-linejoin="round"/>
<path d="M471.8,104.4 L474.3,109.0 L469.3,109.0 Z" fill="#12b012" stroke="#12b012" stroke-width="0.6" stroke-linejoin="round"/>
<path d="M489.8,102.6 L492.3,107.2 L487.3,107.2 Z" fill="#12b012" stroke="#12b012" stroke-width="0.6" stroke-linejoin="round"/>
<path d="M451.0,146.4 C453.8,145.7 462.6,143.3 467.7,142.3 C472.8,141.3 477.4,140.6 481.5,140.3 C485.6,140.0 488.9,139.8 492.6,140.3 C496.3,140.9 499.5,141.9 503.6,143.6 C507.8,145.3 512.9,148.5 517.5,150.6 C522.1,152.7 527.1,154.3 531.3,156.1 C535.4,157.9 538.7,160.0 542.4,161.6 C546.1,163.2 548.8,164.7 553.4,165.8 C558.0,166.9 567.2,167.6 570.0,168.0" fill="none" stroke="#4db7e8" stroke-width="1.9" stroke-linecap="round" />
<circle cx="451.6" cy="146.4" r="1.5" fill="#4db7e8" fill-opacity="0.5" stroke="#4db7e8" stroke-width="1.15"/>
<circle cx="456.0" cy="145.0" r="1.5" fill="#4db7e8" fill-opacity="0.5" stroke="#4db7e8" stroke-width="1.15"/>
<circle cx="462.7" cy="151.4" r="1.5" fill="#4db7e8" fill-opacity="0.5" stroke="#4db7e8" stroke-width="1.15"/>
<circle cx="471.8" cy="137.3" r="1.5" fill="#4db7e8" fill-opacity="0.5" stroke="#4db7e8" stroke-width="1.15"/>
<circle cx="481.0" cy="158.0" r="1.5" fill="#4db7e8" fill-opacity="0.5" stroke="#4db7e8" stroke-width="1.15"/>
<circle cx="487.6" cy="137.6" r="1.5" fill="#4db7e8" fill-opacity="0.5" stroke="#4db7e8" stroke-width="1.15"/>
<circle cx="491.2" cy="138.1" r="1.5" fill="#4db7e8" fill-opacity="0.5" stroke="#4db7e8" stroke-width="1.15"/>
<circle cx="500.9" cy="137.3" r="1.5" fill="#4db7e8" fill-opacity="0.5" stroke="#4db7e8" stroke-width="1.15"/>
<circle cx="507.8" cy="152.5" r="1.5" fill="#4db7e8" fill-opacity="0.5" stroke="#4db7e8" stroke-width="1.15"/>
<circle cx="534.1" cy="156.9" r="1.5" fill="#4db7e8" fill-opacity="0.5" stroke="#4db7e8" stroke-width="1.15"/>
<circle cx="554.0" cy="166.3" r="1.5" fill="#4db7e8" fill-opacity="0.5" stroke="#4db7e8" stroke-width="1.15"/>
<circle cx="561.8" cy="165.0" r="1.5" fill="#4db7e8" fill-opacity="0.5" stroke="#4db7e8" stroke-width="1.15"/>
<circle cx="565.9" cy="167.2" r="1.5" fill="#4db7e8" fill-opacity="0.5" stroke="#4db7e8" stroke-width="1.15"/>
<circle cx="568.7" cy="167.2" r="1.5" fill="#4db7e8" fill-opacity="0.5" stroke="#4db7e8" stroke-width="1.15"/>
<path d="M368.5,73.4 C371.2,75.0 379.9,80.5 384.6,83.2 C389.4,85.9 392.6,87.8 397.0,89.4 C401.4,91.0 405.9,92.0 411.3,93.0 C416.7,94.0 424.3,94.9 429.1,95.7 C433.9,96.5 435.4,97.4 440.0,98.0 C444.6,98.6 451.1,98.9 456.6,99.4 C462.1,99.9 467.7,100.1 473.2,100.8 C478.7,101.5 485.6,102.3 489.8,103.5 C494.0,104.7 494.9,105.9 498.1,107.7 C501.3,109.5 505.5,112.5 509.2,114.6 C512.9,116.7 516.5,118.5 520.2,120.1 C523.9,121.7 527.1,122.9 531.3,124.3 C535.4,125.7 541.0,127.5 545.1,128.4 C549.2,129.3 553.2,128.7 556.2,129.8 C559.2,131.0 561.0,132.8 563.1,135.3 C565.2,137.8 567.8,143.4 568.7,145.0" fill="none" stroke="#ff8a14" stroke-width="1.9" stroke-linecap="round" />
<line x1="368.5" x2="368.5" y1="69.9" y2="75.1" stroke="#ff8a14" stroke-width="0.8"/>
<circle cx="368.5" cy="72.5" r="1.5" fill="#ff8a14" fill-opacity="0.5" stroke="#ff8a14" stroke-width="1.15"/>
<line x1="373.9" x2="373.9" y1="80.6" y2="85.8" stroke="#ff8a14" stroke-width="0.8"/>
<circle cx="373.9" cy="83.2" r="1.5" fill="#ff8a14" fill-opacity="0.5" stroke="#ff8a14" stroke-width="1.15"/>
<line x1="383.1" x2="383.1" y1="83.8" y2="89.0" stroke="#ff8a14" stroke-width="0.8"/>
<circle cx="383.1" cy="86.4" r="1.5" fill="#ff8a14" fill-opacity="0.5" stroke="#ff8a14" stroke-width="1.15"/>
<line x1="397.0" x2="397.0" y1="87.7" y2="92.9" stroke="#ff8a14" stroke-width="0.8"/>
<circle cx="397.0" cy="90.3" r="1.5" fill="#ff8a14" fill-opacity="0.5" stroke="#ff8a14" stroke-width="1.15"/>
<line x1="410.4" x2="410.4" y1="85.9" y2="91.1" stroke="#ff8a14" stroke-width="0.8"/>
<circle cx="410.4" cy="88.5" r="1.5" fill="#ff8a14" fill-opacity="0.5" stroke="#ff8a14" stroke-width="1.15"/>
<line x1="425.6" x2="425.6" y1="90.4" y2="95.6" stroke="#ff8a14" stroke-width="0.8"/>
<circle cx="425.6" cy="93.0" r="1.5" fill="#ff8a14" fill-opacity="0.5" stroke="#ff8a14" stroke-width="1.15"/>
<line x1="437.1" x2="437.1" y1="99.3" y2="104.5" stroke="#ff8a14" stroke-width="0.8"/>
<circle cx="437.1" cy="101.9" r="1.5" fill="#ff8a14" fill-opacity="0.5" stroke="#ff8a14" stroke-width="1.15"/>
<line x1="446.4" x2="446.4" y1="90.4" y2="95.6" stroke="#ff8a14" stroke-width="0.8"/>
<circle cx="446.4" cy="93.0" r="1.5" fill="#ff8a14" fill-opacity="0.5" stroke="#ff8a14" stroke-width="1.15"/>
<line x1="451.0" x2="451.0" y1="99.4" y2="104.6" stroke="#ff8a14" stroke-width="0.8"/>
<circle cx="451.0" cy="102.0" r="1.5" fill="#ff8a14" fill-opacity="0.5" stroke="#ff8a14" stroke-width="1.15"/>
<line x1="474.6" x2="474.6" y1="96.2" y2="101.4" stroke="#ff8a14" stroke-width="0.8"/>
<circle cx="474.6" cy="98.8" r="1.5" fill="#ff8a14" fill-opacity="0.5" stroke="#ff8a14" stroke-width="1.15"/>
<line x1="491.0" x2="491.0" y1="101.7" y2="106.9" stroke="#ff8a14" stroke-width="0.8"/>
<circle cx="491.0" cy="104.3" r="1.5" fill="#ff8a14" fill-opacity="0.5" stroke="#ff8a14" stroke-width="1.15"/>
<line x1="499.5" x2="499.5" y1="106.4" y2="111.6" stroke="#ff8a14" stroke-width="0.8"/>
<circle cx="499.5" cy="109.0" r="1.5" fill="#ff8a14" fill-opacity="0.5" stroke="#ff8a14" stroke-width="1.15"/>
<line x1="504.2" x2="504.2" y1="102.9" y2="108.1" stroke="#ff8a14" stroke-width="0.8"/>
<circle cx="504.2" cy="105.5" r="1.5" fill="#ff8a14" fill-opacity="0.5" stroke="#ff8a14" stroke-width="1.15"/>
<line x1="509.2" x2="509.2" y1="107.3" y2="112.5" stroke="#ff8a14" stroke-width="0.8"/>
<circle cx="509.2" cy="109.9" r="1.5" fill="#ff8a14" fill-opacity="0.5" stroke="#ff8a14" stroke-width="1.15"/>
<line x1="514.2" x2="514.2" y1="119.7" y2="124.9" stroke="#ff8a14" stroke-width="0.8"/>
<circle cx="514.2" cy="122.3" r="1.5" fill="#ff8a14" fill-opacity="0.5" stroke="#ff8a14" stroke-width="1.15"/>
<line x1="519.4" x2="519.4" y1="127.8" y2="133.0" stroke="#ff8a14" stroke-width="0.8"/>
<circle cx="519.4" cy="130.4" r="1.5" fill="#ff8a14" fill-opacity="0.5" stroke="#ff8a14" stroke-width="1.15"/>
<line x1="523.8" x2="523.8" y1="130.0" y2="135.2" stroke="#ff8a14" stroke-width="0.8"/>
<circle cx="523.8" cy="132.6" r="1.5" fill="#ff8a14" fill-opacity="0.5" stroke="#ff8a14" stroke-width="1.15"/>
<line x1="528.0" x2="528.0" y1="118.9" y2="124.1" stroke="#ff8a14" stroke-width="0.8"/>
<circle cx="528.0" cy="121.5" r="1.5" fill="#ff8a14" fill-opacity="0.5" stroke="#ff8a14" stroke-width="1.15"/>
<line x1="531.3" x2="531.3" y1="112.8" y2="118.0" stroke="#ff8a14" stroke-width="0.8"/>
<circle cx="531.3" cy="115.4" r="1.5" fill="#ff8a14" fill-opacity="0.5" stroke="#ff8a14" stroke-width="1.15"/>
<line x1="533.5" x2="533.5" y1="105.1" y2="110.3" stroke="#ff8a14" stroke-width="0.8"/>
<circle cx="533.5" cy="107.7" r="1.5" fill="#ff8a14" fill-opacity="0.5" stroke="#ff8a14" stroke-width="1.15"/>
<line x1="536.0" x2="536.0" y1="116.7" y2="121.9" stroke="#ff8a14" stroke-width="0.8"/>
<circle cx="536.0" cy="119.3" r="1.5" fill="#ff8a14" fill-opacity="0.5" stroke="#ff8a14" stroke-width="1.15"/>
<line x1="537.5" x2="537.5" y1="126.9" y2="132.1" stroke="#ff8a14" stroke-width="0.8"/>
<circle cx="537.5" cy="129.5" r="1.5" fill="#ff8a14" fill-opacity="0.5" stroke="#ff8a14" stroke-width="1.15"/>
<line x1="539.5" x2="539.5" y1="125.2" y2="130.4" stroke="#ff8a14" stroke-width="0.8"/>
<circle cx="539.5" cy="127.8" r="1.5" fill="#ff8a14" fill-opacity="0.5" stroke="#ff8a14" stroke-width="1.15"/>
<line x1="541.5" x2="541.5" y1="124.4" y2="129.6" stroke="#ff8a14" stroke-width="0.8"/>
<circle cx="541.5" cy="127.0" r="1.5" fill="#ff8a14" fill-opacity="0.5" stroke="#ff8a14" stroke-width="1.15"/>
<line x1="543.5" x2="543.5" y1="126.0" y2="131.2" stroke="#ff8a14" stroke-width="0.8"/>
<circle cx="543.5" cy="128.6" r="1.5" fill="#ff8a14" fill-opacity="0.5" stroke="#ff8a14" stroke-width="1.15"/>
<line x1="545.5" x2="545.5" y1="123.6" y2="128.8" stroke="#ff8a14" stroke-width="0.8"/>
<circle cx="545.5" cy="126.2" r="1.5" fill="#ff8a14" fill-opacity="0.5" stroke="#ff8a14" stroke-width="1.15"/>
<line x1="547.5" x2="547.5" y1="124.8" y2="130.0" stroke="#ff8a14" stroke-width="0.8"/>
<circle cx="547.5" cy="127.4" r="1.5" fill="#ff8a14" fill-opacity="0.5" stroke="#ff8a14" stroke-width="1.15"/>
<line x1="549.5" x2="549.5" y1="123.0" y2="128.2" stroke="#ff8a14" stroke-width="0.8"/>
<circle cx="549.5" cy="125.6" r="1.5" fill="#ff8a14" fill-opacity="0.5" stroke="#ff8a14" stroke-width="1.15"/>
<line x1="551.5" x2="551.5" y1="125.2" y2="130.4" stroke="#ff8a14" stroke-width="0.8"/>
<circle cx="551.5" cy="127.8" r="1.5" fill="#ff8a14" fill-opacity="0.5" stroke="#ff8a14" stroke-width="1.15"/>
<line x1="553.5" x2="553.5" y1="123.8" y2="129.0" stroke="#ff8a14" stroke-width="0.8"/>
<circle cx="553.5" cy="126.4" r="1.5" fill="#ff8a14" fill-opacity="0.5" stroke="#ff8a14" stroke-width="1.15"/>
<line x1="555.5" x2="555.5" y1="126.4" y2="131.6" stroke="#ff8a14" stroke-width="0.8"/>
<circle cx="555.5" cy="129.0" r="1.5" fill="#ff8a14" fill-opacity="0.5" stroke="#ff8a14" stroke-width="1.15"/>
<line x1="557.5" x2="557.5" y1="124.6" y2="129.8" stroke="#ff8a14" stroke-width="0.8"/>
<circle cx="557.5" cy="127.2" r="1.5" fill="#ff8a14" fill-opacity="0.5" stroke="#ff8a14" stroke-width="1.15"/>
<line x1="559.5" x2="559.5" y1="127.8" y2="133.0" stroke="#ff8a14" stroke-width="0.8"/>
<circle cx="559.5" cy="130.4" r="1.5" fill="#ff8a14" fill-opacity="0.5" stroke="#ff8a14" stroke-width="1.15"/>
<line x1="561.5" x2="561.5" y1="128.9" y2="134.1" stroke="#ff8a14" stroke-width="0.8"/>
<circle cx="561.5" cy="131.5" r="1.5" fill="#ff8a14" fill-opacity="0.5" stroke="#ff8a14" stroke-width="1.15"/>
<line x1="564.0" x2="564.0" y1="132.9" y2="138.1" stroke="#ff8a14" stroke-width="0.8"/>
<circle cx="564.0" cy="135.5" r="1.5" fill="#ff8a14" fill-opacity="0.5" stroke="#ff8a14" stroke-width="1.15"/>
<line x1="566.0" x2="566.0" y1="136.9" y2="142.1" stroke="#ff8a14" stroke-width="0.8"/>
<circle cx="566.0" cy="139.5" r="1.5" fill="#ff8a14" fill-opacity="0.5" stroke="#ff8a14" stroke-width="1.15"/>
<line x1="567.3" x2="567.3" y1="142.4" y2="147.6" stroke="#ff8a14" stroke-width="0.8"/>
<circle cx="567.3" cy="145.0" r="1.5" fill="#ff8a14" fill-opacity="0.5" stroke="#ff8a14" stroke-width="1.15"/>
<line x1="568.7" x2="568.7" y1="145.2" y2="150.4" stroke="#ff8a14" stroke-width="0.8"/>
<circle cx="568.7" cy="147.8" r="1.5" fill="#ff8a14" fill-opacity="0.5" stroke="#ff8a14" stroke-width="1.15"/>
<path d="M362.0,75.7 C364.5,76.0 372.0,76.7 377.0,77.8 C382.0,78.9 387.2,80.8 392.0,82.6 C396.8,84.4 401.3,86.8 406.0,88.8 C410.7,90.8 414.9,92.6 420.2,94.8 C425.5,97.0 433.0,100.0 438.0,101.9 C443.0,103.8 446.9,105.0 450.0,106.3 C453.1,107.6 452.7,109.0 456.6,109.9 C460.5,110.8 467.7,111.2 473.2,111.8 C478.7,112.3 485.2,112.3 489.8,113.2 C494.4,114.1 497.7,115.3 500.9,117.4 C504.1,119.5 506.4,122.5 509.2,125.7 C512.0,128.9 515.2,133.7 517.5,136.7 C519.8,139.7 521.2,141.8 523.0,143.6 C524.8,145.4 526.4,147.3 528.0,147.8 C529.6,148.3 530.8,147.8 532.7,146.4 C534.6,145.0 537.3,141.6 539.6,139.5 C541.9,137.4 544.2,135.4 546.5,134.0 C548.8,132.6 550.9,131.7 553.4,131.2 C555.9,130.7 559.0,131.0 561.8,131.2 C564.6,131.4 568.6,132.4 570.0,132.6" fill="none" stroke="#ff0a0a" stroke-width="2.0" stroke-linecap="round" />
<line x1="361.9" x2="361.9" y1="73.6" y2="78.4" stroke="#ff0a0a" stroke-width="0.8"/>
<circle cx="361.9" cy="76.0" r="1.5" fill="#ff0a0a" fill-opacity="0.5" stroke="#ff0a0a" stroke-width="1.15"/>
<line x1="367.6" x2="367.6" y1="73.3" y2="78.1" stroke="#ff0a0a" stroke-width="0.8"/>
<circle cx="367.6" cy="75.7" r="1.5" fill="#ff0a0a" fill-opacity="0.5" stroke="#ff0a0a" stroke-width="1.15"/>
<line x1="377.1" x2="377.1" y1="73.3" y2="78.1" stroke="#ff0a0a" stroke-width="0.8"/>
<circle cx="377.1" cy="75.7" r="1.5" fill="#ff0a0a" fill-opacity="0.5" stroke="#ff0a0a" stroke-width="1.15"/>
<line x1="391.7" x2="391.7" y1="79.0" y2="83.8" stroke="#ff0a0a" stroke-width="0.8"/>
<circle cx="391.7" cy="81.4" r="1.5" fill="#ff0a0a" fill-opacity="0.5" stroke="#ff0a0a" stroke-width="1.15"/>
<line x1="406.0" x2="406.0" y1="90.6" y2="95.4" stroke="#ff0a0a" stroke-width="0.8"/>
<circle cx="406.0" cy="93.0" r="1.5" fill="#ff0a0a" fill-opacity="0.5" stroke="#ff0a0a" stroke-width="1.15"/>
<line x1="415.8" x2="415.8" y1="84.3" y2="89.1" stroke="#ff0a0a" stroke-width="0.8"/>
<circle cx="415.8" cy="86.7" r="1.5" fill="#ff0a0a" fill-opacity="0.5" stroke="#ff0a0a" stroke-width="1.15"/>
<line x1="422.0" x2="422.0" y1="93.3" y2="98.1" stroke="#ff0a0a" stroke-width="0.8"/>
<circle cx="422.0" cy="95.7" r="1.5" fill="#ff0a0a" fill-opacity="0.5" stroke="#ff0a0a" stroke-width="1.15"/>
<line x1="434.0" x2="434.0" y1="100.4" y2="105.2" stroke="#ff0a0a" stroke-width="0.8"/>
<circle cx="434.0" cy="102.8" r="1.5" fill="#ff0a0a" fill-opacity="0.5" stroke="#ff0a0a" stroke-width="1.15"/>
<line x1="442.5" x2="442.5" y1="98.6" y2="103.4" stroke="#ff0a0a" stroke-width="0.8"/>
<circle cx="442.5" cy="101.0" r="1.5" fill="#ff0a0a" fill-opacity="0.5" stroke="#ff0a0a" stroke-width="1.15"/>
<line x1="471.8" x2="471.8" y1="108.6" y2="113.4" stroke="#ff0a0a" stroke-width="0.8"/>
<circle cx="471.8" cy="111.0" r="1.5" fill="#ff0a0a" fill-opacity="0.5" stroke="#ff0a0a" stroke-width="1.15"/>
<line x1="489.8" x2="489.8" y1="110.8" y2="115.6" stroke="#ff0a0a" stroke-width="0.8"/>
<circle cx="489.8" cy="113.2" r="1.5" fill="#ff0a0a" fill-opacity="0.5" stroke="#ff0a0a" stroke-width="1.15"/>
<line x1="496.7" x2="496.7" y1="112.2" y2="117.0" stroke="#ff0a0a" stroke-width="0.8"/>
<circle cx="496.7" cy="114.6" r="1.5" fill="#ff0a0a" fill-opacity="0.5" stroke="#ff0a0a" stroke-width="1.15"/>
<line x1="501.4" x2="501.4" y1="107.5" y2="112.3" stroke="#ff0a0a" stroke-width="0.8"/>
<circle cx="501.4" cy="109.9" r="1.5" fill="#ff0a0a" fill-opacity="0.5" stroke="#ff0a0a" stroke-width="1.15"/>
<line x1="506.4" x2="506.4" y1="128.2" y2="133.0" stroke="#ff0a0a" stroke-width="0.8"/>
<circle cx="506.4" cy="130.6" r="1.5" fill="#ff0a0a" fill-opacity="0.5" stroke="#ff0a0a" stroke-width="1.15"/>
<line x1="511.4" x2="511.4" y1="153.7" y2="158.5" stroke="#ff0a0a" stroke-width="0.8"/>
<circle cx="511.4" cy="156.1" r="1.5" fill="#ff0a0a" fill-opacity="0.5" stroke="#ff0a0a" stroke-width="1.15"/>
<line x1="521.6" x2="521.6" y1="150.9" y2="155.7" stroke="#ff0a0a" stroke-width="0.8"/>
<circle cx="521.6" cy="153.3" r="1.5" fill="#ff0a0a" fill-opacity="0.5" stroke="#ff0a0a" stroke-width="1.15"/>
<line x1="524.4" x2="524.4" y1="152.9" y2="157.7" stroke="#ff0a0a" stroke-width="0.8"/>
<circle cx="524.4" cy="155.3" r="1.5" fill="#ff0a0a" fill-opacity="0.5" stroke="#ff0a0a" stroke-width="1.15"/>
<line x1="529.1" x2="529.1" y1="146.8" y2="151.6" stroke="#ff0a0a" stroke-width="0.8"/>
<circle cx="529.1" cy="149.2" r="1.5" fill="#ff0a0a" fill-opacity="0.5" stroke="#ff0a0a" stroke-width="1.15"/>
<line x1="533.2" x2="533.2" y1="137.1" y2="141.9" stroke="#ff0a0a" stroke-width="0.8"/>
<circle cx="533.2" cy="139.5" r="1.5" fill="#ff0a0a" fill-opacity="0.5" stroke="#ff0a0a" stroke-width="1.15"/>
<line x1="535.5" x2="535.5" y1="144.0" y2="148.8" stroke="#ff0a0a" stroke-width="0.8"/>
<circle cx="535.5" cy="146.4" r="1.5" fill="#ff0a0a" fill-opacity="0.5" stroke="#ff0a0a" stroke-width="1.15"/>
<line x1="538.2" x2="538.2" y1="141.8" y2="146.6" stroke="#ff0a0a" stroke-width="0.8"/>
<circle cx="538.2" cy="144.2" r="1.5" fill="#ff0a0a" fill-opacity="0.5" stroke="#ff0a0a" stroke-width="1.15"/>
<line x1="541.8" x2="541.8" y1="142.6" y2="147.4" stroke="#ff0a0a" stroke-width="0.8"/>
<circle cx="541.8" cy="145.0" r="1.5" fill="#ff0a0a" fill-opacity="0.5" stroke="#ff0a0a" stroke-width="1.15"/>
<line x1="544.6" x2="544.6" y1="127.4" y2="132.2" stroke="#ff0a0a" stroke-width="0.8"/>
<circle cx="544.6" cy="129.8" r="1.5" fill="#ff0a0a" fill-opacity="0.5" stroke="#ff0a0a" stroke-width="1.15"/>
<line x1="550.7" x2="550.7" y1="131.6" y2="136.4" stroke="#ff0a0a" stroke-width="0.8"/>
<circle cx="550.7" cy="134.0" r="1.5" fill="#ff0a0a" fill-opacity="0.5" stroke="#ff0a0a" stroke-width="1.15"/>
<line x1="555.7" x2="555.7" y1="136.5" y2="141.3" stroke="#ff0a0a" stroke-width="0.8"/>
<circle cx="555.7" cy="138.9" r="1.5" fill="#ff0a0a" fill-opacity="0.5" stroke="#ff0a0a" stroke-width="1.15"/>
<line x1="558.4" x2="558.4" y1="136.5" y2="141.3" stroke="#ff0a0a" stroke-width="0.8"/>
<circle cx="558.4" cy="138.9" r="1.5" fill="#ff0a0a" fill-opacity="0.5" stroke="#ff0a0a" stroke-width="1.15"/>
<line x1="556.2" x2="556.2" y1="148.2" y2="153.0" stroke="#ff0a0a" stroke-width="0.8"/>
<circle cx="556.2" cy="150.6" r="1.5" fill="#ff0a0a" fill-opacity="0.5" stroke="#ff0a0a" stroke-width="1.15"/>
<line x1="554.8" x2="554.8" y1="124.6" y2="129.4" stroke="#ff0a0a" stroke-width="0.8"/>
<circle cx="554.8" cy="127.0" r="1.5" fill="#ff0a0a" fill-opacity="0.5" stroke="#ff0a0a" stroke-width="1.15"/>
<line x1="561.8" x2="561.8" y1="123.3" y2="128.1" stroke="#ff0a0a" stroke-width="0.8"/>
<circle cx="561.8" cy="125.7" r="1.5" fill="#ff0a0a" fill-opacity="0.5" stroke="#ff0a0a" stroke-width="1.15"/>
<line x1="566.7" x2="566.7" y1="122.7" y2="127.5" stroke="#ff0a0a" stroke-width="0.8"/>
<circle cx="566.7" cy="125.1" r="1.5" fill="#ff0a0a" fill-opacity="0.5" stroke="#ff0a0a" stroke-width="1.15"/>
<path d="M346.9,47.2 C349.0,47.1 355.2,46.5 359.6,46.5 C364.0,46.5 368.8,46.5 373.3,46.9 C377.8,47.2 382.7,48.0 386.6,48.6 C390.5,49.2 392.0,49.6 396.8,50.2 C401.6,50.8 408.3,51.5 415.5,52.2 C422.7,52.9 433.5,53.8 440.0,54.6 C446.5,55.4 449.0,56.1 454.7,56.9 C460.4,57.7 468.1,58.6 474.0,59.2 C479.9,59.8 484.3,59.8 490.0,60.4 C495.7,61.0 503.1,62.0 508.0,62.8 C512.9,63.6 516.0,64.4 519.4,65.3 C522.8,66.2 526.0,67.0 528.5,68.4 C531.0,69.8 532.7,72.0 534.2,73.9 C535.7,75.8 536.8,77.8 537.6,79.6 C538.4,81.4 538.9,83.3 539.2,85.0 C539.5,86.7 539.4,89.0 539.4,89.8" fill="none" stroke="#111" stroke-width="1.7" stroke-linecap="round" />
<circle cx="346.9" cy="47.2" r="1.5" fill="#111" fill-opacity="0.5" stroke="#111" stroke-width="1.5"/>
<circle cx="351.0" cy="46.8" r="1.5" fill="#111" fill-opacity="0.5" stroke="#111" stroke-width="1.5"/>
<circle cx="359.6" cy="46.5" r="1.5" fill="#111" fill-opacity="0.5" stroke="#111" stroke-width="1.5"/>
<circle cx="373.3" cy="46.8" r="1.5" fill="#111" fill-opacity="0.5" stroke="#111" stroke-width="1.5"/>
<circle cx="386.6" cy="48.6" r="1.5" fill="#111" fill-opacity="0.5" stroke="#111" stroke-width="1.5"/>
<circle cx="396.8" cy="50.4" r="1.5" fill="#111" fill-opacity="0.5" stroke="#111" stroke-width="1.5"/>
<circle cx="402.7" cy="50.7" r="1.5" fill="#111" fill-opacity="0.5" stroke="#111" stroke-width="1.5"/>
<circle cx="415.5" cy="51.8" r="1.5" fill="#111" fill-opacity="0.5" stroke="#111" stroke-width="1.5"/>
<circle cx="421.5" cy="53.0" r="1.5" fill="#111" fill-opacity="0.5" stroke="#111" stroke-width="1.5"/>
<circle cx="426.3" cy="54.0" r="1.5" fill="#111" fill-opacity="0.5" stroke="#111" stroke-width="1.5"/>
<circle cx="454.7" cy="56.4" r="1.5" fill="#111" fill-opacity="0.5" stroke="#111" stroke-width="1.5"/>
<circle cx="474.0" cy="59.2" r="1.5" fill="#111" fill-opacity="0.5" stroke="#111" stroke-width="1.5"/>
<circle cx="480.8" cy="57.4" r="1.5" fill="#111" fill-opacity="0.5" stroke="#111" stroke-width="1.5"/>
<circle cx="486.5" cy="61.0" r="1.5" fill="#111" fill-opacity="0.5" stroke="#111" stroke-width="1.5"/>
<circle cx="492.2" cy="59.9" r="1.5" fill="#111" fill-opacity="0.5" stroke="#111" stroke-width="1.5"/>
<circle cx="496.7" cy="61.4" r="1.5" fill="#111" fill-opacity="0.5" stroke="#111" stroke-width="1.5"/>
<circle cx="502.4" cy="63.7" r="1.5" fill="#111" fill-opacity="0.5" stroke="#111" stroke-width="1.5"/>
<circle cx="507.4" cy="63.7" r="1.5" fill="#111" fill-opacity="0.5" stroke="#111" stroke-width="1.5"/>
<circle cx="510.3" cy="62.1" r="1.5" fill="#111" fill-opacity="0.5" stroke="#111" stroke-width="1.5"/>
<circle cx="513.7" cy="63.7" r="1.5" fill="#111" fill-opacity="0.5" stroke="#111" stroke-width="1.5"/>
<circle cx="517.1" cy="64.8" r="1.5" fill="#111" fill-opacity="0.5" stroke="#111" stroke-width="1.5"/>
<circle cx="520.6" cy="68.2" r="1.5" fill="#111" fill-opacity="0.5" stroke="#111" stroke-width="1.5"/>
<circle cx="522.8" cy="66.0" r="1.5" fill="#111" fill-opacity="0.5" stroke="#111" stroke-width="1.5"/>
<circle cx="525.8" cy="68.2" r="1.5" fill="#111" fill-opacity="0.5" stroke="#111" stroke-width="1.5"/>
<circle cx="528.0" cy="66.0" r="1.5" fill="#111" fill-opacity="0.5" stroke="#111" stroke-width="1.5"/>
<circle cx="530.8" cy="69.4" r="1.5" fill="#111" fill-opacity="0.5" stroke="#111" stroke-width="1.5"/>
<circle cx="534.2" cy="76.6" r="1.5" fill="#111" fill-opacity="0.5" stroke="#111" stroke-width="1.5"/>
<circle cx="537.1" cy="78.9" r="1.5" fill="#111" fill-opacity="0.5" stroke="#111" stroke-width="1.5"/>
<circle cx="538.9" cy="90.3" r="1.5" fill="#111" fill-opacity="0.5" stroke="#111" stroke-width="1.5"/>
<line x1="541.0" x2="541.0" y1="99.4" y2="107.8" stroke="#111" stroke-width="0.8"/>
<circle cx="541.0" cy="103.6" r="1.6" fill="#111" fill-opacity="0.5" stroke="#111" stroke-width="1.0"/>
<path d="M312.3,325.6 L380.0,324.6 L445.0,323.9" fill="none" stroke="#ffdc00" stroke-width="1.9" stroke-linejoin="round" stroke-linecap="round" />
<path d="M313.6,322.4 L316.1,326.9 L311.1,326.9 Z" fill="#ffdc00" stroke="#ffdc00" stroke-width="0.6" stroke-linejoin="round"/>
<path d="M319.1,322.3 L321.6,326.8 L316.6,326.8 Z" fill="#ffdc00" stroke="#ffdc00" stroke-width="0.6" stroke-linejoin="round"/>
<path d="M332.7,322.1 L335.2,326.6 L330.2,326.6 Z" fill="#ffdc00" stroke="#ffdc00" stroke-width="0.6" stroke-linejoin="round"/>
<path d="M348.0,321.9 L350.5,326.4 L345.5,326.4 Z" fill="#ffdc00" stroke="#ffdc00" stroke-width="0.6" stroke-linejoin="round"/>
<path d="M364.5,321.6 L367.0,326.2 L362.0,326.2 Z" fill="#ffdc00" stroke="#ffdc00" stroke-width="0.6" stroke-linejoin="round"/>
<path d="M384.9,321.3 L387.4,325.9 L382.4,325.9 Z" fill="#ffdc00" stroke="#ffdc00" stroke-width="0.6" stroke-linejoin="round"/>
<path d="M401.9,321.2 L404.4,325.7 L399.4,325.7 Z" fill="#ffdc00" stroke="#ffdc00" stroke-width="0.6" stroke-linejoin="round"/>
<path d="M416.6,321.0 L419.1,325.6 L414.1,325.6 Z" fill="#ffdc00" stroke="#ffdc00" stroke-width="0.6" stroke-linejoin="round"/>
<path d="M430.3,320.9 L432.8,325.4 L427.8,325.4 Z" fill="#ffdc00" stroke="#ffdc00" stroke-width="0.6" stroke-linejoin="round"/>
<path d="M442.7,320.7 L445.2,325.3 L440.2,325.3 Z" fill="#ffdc00" stroke="#ffdc00" stroke-width="0.6" stroke-linejoin="round"/>
<path d="M325.9,322.6 C331.6,322.3 347.5,321.5 360.0,320.8 C372.5,320.1 387.5,318.8 400.8,318.6 C414.1,318.4 430.9,319.2 440.0,319.6 C449.1,320.0 447.0,320.1 455.1,320.8 C463.2,321.5 482.8,323.3 488.4,323.8" fill="none" stroke="#12b012" stroke-width="1.9" stroke-linecap="round" />
<path d="M325.9,318.4 L328.4,322.9 L323.4,322.9 Z" fill="#12b012" stroke="#12b012" stroke-width="0.6" stroke-linejoin="round"/>
<path d="M328.0,318.9 L330.5,323.4 L325.5,323.4 Z" fill="#12b012" stroke="#12b012" stroke-width="0.6" stroke-linejoin="round"/>
<path d="M342.9,317.0 L345.4,321.6 L340.4,321.6 Z" fill="#12b012" stroke="#12b012" stroke-width="0.6" stroke-linejoin="round"/>
<path d="M386.0,317.4 L388.5,321.9 L383.5,321.9 Z" fill="#12b012" stroke="#12b012" stroke-width="0.6" stroke-linejoin="round"/>
<path d="M401.9,313.0 L404.4,317.6 L399.4,317.6 Z" fill="#12b012" stroke="#12b012" stroke-width="0.6" stroke-linejoin="round"/>
<path d="M436.0,315.7 L438.5,320.2 L433.5,320.2 Z" fill="#12b012" stroke="#12b012" stroke-width="0.6" stroke-linejoin="round"/>
<path d="M454.3,318.4 L456.8,322.9 L451.8,322.9 Z" fill="#12b012" stroke="#12b012" stroke-width="0.6" stroke-linejoin="round"/>
<path d="M471.8,319.3 L474.3,323.8 L469.3,323.8 Z" fill="#12b012" stroke="#12b012" stroke-width="0.6" stroke-linejoin="round"/>
<path d="M488.4,320.2 L490.9,324.8 L485.9,324.8 Z" fill="#12b012" stroke="#12b012" stroke-width="0.6" stroke-linejoin="round"/>
<path d="M346.3,328.3 C355.2,328.4 382.7,328.8 400.0,329.0 C417.3,329.2 431.8,329.2 450.0,329.3 C468.2,329.4 496.7,329.4 509.0,329.5 C521.3,329.6 520.5,329.7 524.0,329.8 C527.5,329.9 527.7,329.8 529.8,330.4 C531.9,331.0 534.6,332.4 536.7,333.2 C538.8,334.0 541.5,335.0 542.5,335.4" fill="none" stroke="#111" stroke-width="1.6" stroke-linecap="round" />
<circle cx="346.8" cy="328.3" r="1.55" fill="#111" fill-opacity="0.5" stroke="#111" stroke-width="1.35"/>
<circle cx="350.8" cy="328.4" r="1.55" fill="#111" fill-opacity="0.5" stroke="#111" stroke-width="1.35"/>
<circle cx="358.8" cy="328.5" r="1.55" fill="#111" fill-opacity="0.5" stroke="#111" stroke-width="1.35"/>
<circle cx="373.5" cy="328.7" r="1.55" fill="#111" fill-opacity="0.5" stroke="#111" stroke-width="1.35"/>
<circle cx="387.2" cy="328.8" r="1.55" fill="#111" fill-opacity="0.5" stroke="#111" stroke-width="1.35"/>
<circle cx="396.9" cy="329.0" r="1.55" fill="#111" fill-opacity="0.5" stroke="#111" stroke-width="1.35"/>
<circle cx="403.0" cy="329.0" r="1.55" fill="#111" fill-opacity="0.5" stroke="#111" stroke-width="1.35"/>
<circle cx="415.5" cy="329.1" r="1.55" fill="#111" fill-opacity="0.5" stroke="#111" stroke-width="1.35"/>
<circle cx="423.5" cy="329.1" r="1.55" fill="#111" fill-opacity="0.5" stroke="#111" stroke-width="1.35"/>
<circle cx="429.1" cy="329.2" r="1.55" fill="#111" fill-opacity="0.5" stroke="#111" stroke-width="1.35"/>
<circle cx="454.5" cy="329.3" r="1.55" fill="#111" fill-opacity="0.5" stroke="#111" stroke-width="1.35"/>
<circle cx="474.0" cy="329.4" r="1.55" fill="#111" fill-opacity="0.5" stroke="#111" stroke-width="1.35"/>
<circle cx="480.0" cy="329.4" r="1.55" fill="#111" fill-opacity="0.5" stroke="#111" stroke-width="1.35"/>
<circle cx="484.5" cy="329.4" r="1.55" fill="#111" fill-opacity="0.5" stroke="#111" stroke-width="1.35"/>
<circle cx="487.0" cy="329.4" r="1.55" fill="#111" fill-opacity="0.5" stroke="#111" stroke-width="1.35"/>
<circle cx="489.5" cy="329.4" r="1.55" fill="#111" fill-opacity="0.5" stroke="#111" stroke-width="1.35"/>
<circle cx="492.0" cy="329.4" r="1.55" fill="#111" fill-opacity="0.5" stroke="#111" stroke-width="1.35"/>
<circle cx="494.5" cy="329.5" r="1.55" fill="#111" fill-opacity="0.5" stroke="#111" stroke-width="1.35"/>
<circle cx="497.0" cy="329.5" r="1.55" fill="#111" fill-opacity="0.5" stroke="#111" stroke-width="1.35"/>
<circle cx="499.5" cy="329.5" r="1.55" fill="#111" fill-opacity="0.5" stroke="#111" stroke-width="1.35"/>
<circle cx="502.0" cy="329.5" r="1.55" fill="#111" fill-opacity="0.5" stroke="#111" stroke-width="1.35"/>
<circle cx="504.5" cy="329.5" r="1.55" fill="#111" fill-opacity="0.5" stroke="#111" stroke-width="1.35"/>
<circle cx="507.0" cy="329.5" r="1.55" fill="#111" fill-opacity="0.5" stroke="#111" stroke-width="1.35"/>
<circle cx="509.5" cy="329.5" r="1.55" fill="#111" fill-opacity="0.5" stroke="#111" stroke-width="1.35"/>
<circle cx="512.0" cy="329.6" r="1.55" fill="#111" fill-opacity="0.5" stroke="#111" stroke-width="1.35"/>
<circle cx="514.5" cy="329.6" r="1.55" fill="#111" fill-opacity="0.5" stroke="#111" stroke-width="1.35"/>
<circle cx="517.0" cy="329.7" r="1.55" fill="#111" fill-opacity="0.5" stroke="#111" stroke-width="1.35"/>
<circle cx="519.5" cy="329.7" r="1.55" fill="#111" fill-opacity="0.5" stroke="#111" stroke-width="1.35"/>
<circle cx="522.0" cy="329.8" r="1.55" fill="#111" fill-opacity="0.5" stroke="#111" stroke-width="1.35"/>
<circle cx="524.5" cy="329.9" r="1.55" fill="#111" fill-opacity="0.5" stroke="#111" stroke-width="1.35"/>
<circle cx="527.0" cy="330.1" r="1.55" fill="#111" fill-opacity="0.5" stroke="#111" stroke-width="1.35"/>
<circle cx="529.5" cy="330.4" r="1.55" fill="#111" fill-opacity="0.5" stroke="#111" stroke-width="1.35"/>
<circle cx="532.0" cy="331.3" r="1.55" fill="#111" fill-opacity="0.5" stroke="#111" stroke-width="1.35"/>
<circle cx="534.3" cy="332.2" r="1.55" fill="#111" fill-opacity="0.5" stroke="#111" stroke-width="1.35"/>
<circle cx="536.6" cy="333.2" r="1.55" fill="#111" fill-opacity="0.5" stroke="#111" stroke-width="1.35"/>
<circle cx="538.9" cy="334.0" r="1.55" fill="#111" fill-opacity="0.5" stroke="#111" stroke-width="1.35"/>
<circle cx="541.2" cy="334.9" r="1.55" fill="#111" fill-opacity="0.5" stroke="#111" stroke-width="1.35"/>
<circle cx="543.3" cy="335.4" r="1.55" fill="#111" fill-opacity="0.5" stroke="#111" stroke-width="1.35"/>
<path d="M451.5,307.2 C452.6,307.2 456.1,306.8 458.3,307.2 C460.5,307.6 462.6,308.5 464.8,309.4 C467.0,310.3 469.1,311.8 471.3,312.7 C473.5,313.6 475.6,314.5 477.8,315.1 C480.0,315.7 482.4,316.2 484.3,316.4 C486.2,316.5 487.5,316.6 489.1,316.0 C490.7,315.4 492.4,314.3 494.0,312.9 C495.6,311.5 496.8,309.8 498.5,307.6 C500.2,305.4 502.4,302.6 504.5,299.6 C506.6,296.7 508.7,293.8 511.4,289.9 C514.1,286.0 517.5,279.9 520.6,276.1 C523.7,272.3 526.7,268.9 529.8,266.9 C532.9,264.9 535.9,264.3 539.0,264.1 C542.1,263.9 544.8,264.8 548.2,265.8 C551.7,266.9 556.1,268.7 559.7,270.4 C563.3,272.1 568.3,275.2 570.0,276.1" fill="none" stroke="#4db7e8" stroke-width="1.9" stroke-linecap="round" />
<circle cx="451.5" cy="311.8" r="1.5" fill="#4db7e8" fill-opacity="0.5" stroke="#4db7e8" stroke-width="1.15"/>
<circle cx="456.1" cy="303.7" r="1.5" fill="#4db7e8" fill-opacity="0.5" stroke="#4db7e8" stroke-width="1.15"/>
<circle cx="461.9" cy="302.6" r="1.5" fill="#4db7e8" fill-opacity="0.5" stroke="#4db7e8" stroke-width="1.15"/>
<circle cx="472.2" cy="314.6" r="1.5" fill="#4db7e8" fill-opacity="0.5" stroke="#4db7e8" stroke-width="1.15"/>
<circle cx="480.3" cy="310.7" r="1.5" fill="#4db7e8" fill-opacity="0.5" stroke="#4db7e8" stroke-width="1.15"/>
<circle cx="487.2" cy="316.4" r="1.5" fill="#4db7e8" fill-opacity="0.5" stroke="#4db7e8" stroke-width="1.15"/>
<circle cx="491.1" cy="322.2" r="1.5" fill="#4db7e8" fill-opacity="0.5" stroke="#4db7e8" stroke-width="1.15"/>
<circle cx="501.0" cy="314.6" r="1.5" fill="#4db7e8" fill-opacity="0.5" stroke="#4db7e8" stroke-width="1.15"/>
<circle cx="507.5" cy="287.2" r="1.5" fill="#4db7e8" fill-opacity="0.5" stroke="#4db7e8" stroke-width="1.15"/>
<circle cx="534.1" cy="254.4" r="1.5" fill="#4db7e8" fill-opacity="0.5" stroke="#4db7e8" stroke-width="1.15"/>
<circle cx="535.5" cy="257.7" r="1.5" fill="#4db7e8" fill-opacity="0.5" stroke="#4db7e8" stroke-width="1.15"/>
<circle cx="554.0" cy="277.2" r="1.5" fill="#4db7e8" fill-opacity="0.5" stroke="#4db7e8" stroke-width="1.15"/>
<circle cx="561.8" cy="271.0" r="1.5" fill="#4db7e8" fill-opacity="0.5" stroke="#4db7e8" stroke-width="1.15"/>
<circle cx="565.9" cy="271.5" r="1.5" fill="#4db7e8" fill-opacity="0.5" stroke="#4db7e8" stroke-width="1.15"/>
<circle cx="567.8" cy="272.1" r="1.5" fill="#4db7e8" fill-opacity="0.5" stroke="#4db7e8" stroke-width="1.15"/>
<path d="M367.9,326.3 C370.6,325.8 378.6,324.2 384.0,323.2 C389.4,322.2 395.7,321.1 400.0,320.4 C404.3,319.7 406.5,319.6 409.7,319.2 C412.9,318.8 416.1,318.4 419.4,317.9 C422.6,317.3 425.9,316.6 429.2,315.9 C432.4,315.2 435.7,314.4 438.9,313.5 C442.1,312.6 445.4,311.5 448.6,310.7 C451.8,309.9 455.1,309.2 458.3,308.6 C461.5,308.0 464.8,307.7 468.0,307.0 C471.2,306.3 474.6,305.7 477.8,304.6 C481.1,303.5 484.6,301.7 487.5,300.5 C490.4,299.3 492.2,298.4 495.0,297.2 C497.8,296.0 501.4,294.4 504.5,293.4 C507.6,292.4 511.0,291.5 513.7,291.0 C516.4,290.5 518.3,290.2 520.6,290.6 C522.9,291.0 524.8,292.2 527.5,293.4 C530.2,294.6 533.6,297.0 536.7,298.0 C539.8,299.0 542.8,299.5 545.9,299.6 C549.0,299.7 552.0,299.2 555.1,298.7 C558.2,298.2 561.8,297.3 564.3,296.8 C566.8,296.3 569.0,295.9 570.0,295.7" fill="none" stroke="#ff8a14" stroke-width="1.9" stroke-linecap="round" />
<circle cx="369.4" cy="326.3" r="1.5" fill="#ff8a14" fill-opacity="0.5" stroke="#ff8a14" stroke-width="1.15"/>
<circle cx="374.7" cy="324.5" r="1.5" fill="#ff8a14" fill-opacity="0.5" stroke="#ff8a14" stroke-width="1.15"/>
<circle cx="383.7" cy="318.8" r="1.5" fill="#ff8a14" fill-opacity="0.5" stroke="#ff8a14" stroke-width="1.15"/>
<circle cx="397.4" cy="321.7" r="1.5" fill="#ff8a14" fill-opacity="0.5" stroke="#ff8a14" stroke-width="1.15"/>
<circle cx="410.5" cy="318.8" r="1.5" fill="#ff8a14" fill-opacity="0.5" stroke="#ff8a14" stroke-width="1.15"/>
<circle cx="425.7" cy="316.5" r="1.5" fill="#ff8a14" fill-opacity="0.5" stroke="#ff8a14" stroke-width="1.15"/>
<circle cx="437.5" cy="316.5" r="1.5" fill="#ff8a14" fill-opacity="0.5" stroke="#ff8a14" stroke-width="1.15"/>
<circle cx="446.8" cy="308.6" r="1.5" fill="#ff8a14" fill-opacity="0.5" stroke="#ff8a14" stroke-width="1.15"/>
<circle cx="446.9" cy="308.4" r="1.5" fill="#ff8a14" fill-opacity="0.5" stroke="#ff8a14" stroke-width="1.15"/>
<circle cx="467.2" cy="307.2" r="1.5" fill="#ff8a14" fill-opacity="0.5" stroke="#ff8a14" stroke-width="1.15"/>
<circle cx="474.5" cy="311.8" r="1.5" fill="#ff8a14" fill-opacity="0.5" stroke="#ff8a14" stroke-width="1.15"/>
<circle cx="492.5" cy="300.3" r="1.5" fill="#ff8a14" fill-opacity="0.5" stroke="#ff8a14" stroke-width="1.15"/>
<circle cx="499.4" cy="289.9" r="1.5" fill="#ff8a14" fill-opacity="0.5" stroke="#ff8a14" stroke-width="1.15"/>
<circle cx="509.1" cy="303.3" r="1.5" fill="#ff8a14" fill-opacity="0.5" stroke="#ff8a14" stroke-width="1.15"/>
<circle cx="513.7" cy="287.2" r="1.5" fill="#ff8a14" fill-opacity="0.5" stroke="#ff8a14" stroke-width="1.15"/>
<circle cx="519.4" cy="281.9" r="1.5" fill="#ff8a14" fill-opacity="0.5" stroke="#ff8a14" stroke-width="1.15"/>
<circle cx="524.0" cy="287.2" r="1.5" fill="#ff8a14" fill-opacity="0.5" stroke="#ff8a14" stroke-width="1.15"/>
<circle cx="526.3" cy="284.2" r="1.5" fill="#ff8a14" fill-opacity="0.5" stroke="#ff8a14" stroke-width="1.15"/>
<circle cx="528.6" cy="289.9" r="1.5" fill="#ff8a14" fill-opacity="0.5" stroke="#ff8a14" stroke-width="1.15"/>
<circle cx="531.0" cy="304.9" r="1.5" fill="#ff8a14" fill-opacity="0.5" stroke="#ff8a14" stroke-width="1.15"/>
<circle cx="533.3" cy="307.2" r="1.5" fill="#ff8a14" fill-opacity="0.5" stroke="#ff8a14" stroke-width="1.15"/>
<circle cx="535.6" cy="299.1" r="1.5" fill="#ff8a14" fill-opacity="0.5" stroke="#ff8a14" stroke-width="1.15"/>
<circle cx="536.7" cy="302.6" r="1.5" fill="#ff8a14" fill-opacity="0.5" stroke="#ff8a14" stroke-width="1.15"/>
<circle cx="539.0" cy="296.4" r="1.5" fill="#ff8a14" fill-opacity="0.5" stroke="#ff8a14" stroke-width="1.15"/>
<circle cx="542.5" cy="298.0" r="1.5" fill="#ff8a14" fill-opacity="0.5" stroke="#ff8a14" stroke-width="1.15"/>
<circle cx="545.9" cy="295.7" r="1.5" fill="#ff8a14" fill-opacity="0.5" stroke="#ff8a14" stroke-width="1.15"/>
<circle cx="548.2" cy="300.3" r="1.5" fill="#ff8a14" fill-opacity="0.5" stroke="#ff8a14" stroke-width="1.15"/>
<circle cx="550.5" cy="301.4" r="1.5" fill="#ff8a14" fill-opacity="0.5" stroke="#ff8a14" stroke-width="1.15"/>
<circle cx="552.8" cy="292.2" r="1.5" fill="#ff8a14" fill-opacity="0.5" stroke="#ff8a14" stroke-width="1.15"/>
<circle cx="555.1" cy="301.4" r="1.5" fill="#ff8a14" fill-opacity="0.5" stroke="#ff8a14" stroke-width="1.15"/>
<circle cx="557.4" cy="300.3" r="1.5" fill="#ff8a14" fill-opacity="0.5" stroke="#ff8a14" stroke-width="1.15"/>
<circle cx="559.7" cy="306.0" r="1.5" fill="#ff8a14" fill-opacity="0.5" stroke="#ff8a14" stroke-width="1.15"/>
<circle cx="562.0" cy="299.1" r="1.5" fill="#ff8a14" fill-opacity="0.5" stroke="#ff8a14" stroke-width="1.15"/>
<circle cx="565.5" cy="294.5" r="1.5" fill="#ff8a14" fill-opacity="0.5" stroke="#ff8a14" stroke-width="1.15"/>
<circle cx="567.8" cy="299.1" r="1.5" fill="#ff8a14" fill-opacity="0.5" stroke="#ff8a14" stroke-width="1.15"/>
<circle cx="569.4" cy="298.0" r="1.5" fill="#ff8a14" fill-opacity="0.5" stroke="#ff8a14" stroke-width="1.15"/>
<path d="M361.7,327.9 C363.3,326.8 367.8,323.3 371.3,321.0 C374.8,318.7 378.5,316.1 382.6,314.2 C386.8,312.3 391.7,310.9 396.2,309.6 C400.7,308.3 405.8,307.0 409.7,306.2 C413.6,305.4 416.1,305.1 419.4,304.9 C422.6,304.7 425.9,304.8 429.2,304.9 C432.4,305.0 435.7,305.5 438.9,305.7 C442.1,305.9 445.9,306.2 448.6,306.2 C451.3,306.2 452.9,306.1 455.1,305.7 C457.3,305.3 459.5,304.8 461.6,303.8 C463.8,302.9 466.1,301.4 468.0,300.0 C469.9,298.6 471.3,297.3 472.9,295.7 C474.5,294.1 476.4,292.4 477.8,290.6 C479.2,288.8 479.5,288.5 481.5,285.0 C483.5,281.5 487.5,274.1 489.8,269.5 C492.1,264.9 493.5,262.4 495.3,257.7 C497.1,253.0 499.0,246.2 500.9,241.1 C502.8,236.0 504.5,230.8 506.4,227.3 C508.3,223.9 510.4,221.1 512.5,220.4 C514.6,219.7 516.9,221.3 518.9,223.1 C520.9,224.9 522.5,227.7 524.4,231.4 C526.2,235.1 528.1,240.2 530.0,245.3 C531.9,250.4 534.0,258.2 535.5,262.2 C537.0,266.2 537.2,266.5 539.0,269.2 C540.8,271.9 543.3,275.5 546.0,278.4 C548.7,281.3 552.6,284.4 555.1,286.5 C557.6,288.6 559.9,290.2 560.9,291.0" fill="none" stroke="#ff0a0a" stroke-width="2.0" stroke-linecap="round" />
<line x1="361.7" x2="361.7" y1="325.0" y2="329.4" stroke="#ff0a0a" stroke-width="0.8"/>
<circle cx="361.7" cy="327.2" r="1.5" fill="#ff0a0a" fill-opacity="0.5" stroke="#ff0a0a" stroke-width="1.15"/>
<line x1="391.7" x2="391.7" y1="310.9" y2="315.3" stroke="#ff0a0a" stroke-width="0.8"/>
<circle cx="391.7" cy="313.1" r="1.5" fill="#ff0a0a" fill-opacity="0.5" stroke="#ff0a0a" stroke-width="1.15"/>
<line x1="405.3" x2="405.3" y1="310.5" y2="314.9" stroke="#ff0a0a" stroke-width="0.8"/>
<circle cx="405.3" cy="312.7" r="1.5" fill="#ff0a0a" fill-opacity="0.5" stroke="#ff0a0a" stroke-width="1.15"/>
<line x1="416.0" x2="416.0" y1="299.6" y2="304.0" stroke="#ff0a0a" stroke-width="0.8"/>
<circle cx="416.0" cy="301.8" r="1.5" fill="#ff0a0a" fill-opacity="0.5" stroke="#ff0a0a" stroke-width="1.15"/>
<line x1="421.2" x2="421.2" y1="302.3" y2="306.7" stroke="#ff0a0a" stroke-width="0.8"/>
<circle cx="421.2" cy="304.5" r="1.5" fill="#ff0a0a" fill-opacity="0.5" stroke="#ff0a0a" stroke-width="1.15"/>
<line x1="434.1" x2="434.1" y1="304.1" y2="308.5" stroke="#ff0a0a" stroke-width="0.8"/>
<circle cx="434.1" cy="306.3" r="1.5" fill="#ff0a0a" fill-opacity="0.5" stroke="#ff0a0a" stroke-width="1.15"/>
<line x1="442.7" x2="442.7" y1="303.0" y2="307.4" stroke="#ff0a0a" stroke-width="0.8"/>
<circle cx="442.7" cy="305.2" r="1.5" fill="#ff0a0a" fill-opacity="0.5" stroke="#ff0a0a" stroke-width="1.15"/>
<line x1="448.9" x2="448.9" y1="305.2" y2="309.6" stroke="#ff0a0a" stroke-width="0.8"/>
<circle cx="448.9" cy="307.4" r="1.5" fill="#ff0a0a" fill-opacity="0.5" stroke="#ff0a0a" stroke-width="1.15"/>
<line x1="457.3" x2="457.3" y1="301.5" y2="305.9" stroke="#ff0a0a" stroke-width="0.8"/>
<circle cx="457.3" cy="303.7" r="1.5" fill="#ff0a0a" fill-opacity="0.5" stroke="#ff0a0a" stroke-width="1.15"/>
<line x1="471.5" x2="471.5" y1="302.7" y2="307.1" stroke="#ff0a0a" stroke-width="0.8"/>
<circle cx="471.5" cy="304.9" r="1.5" fill="#ff0a0a" fill-opacity="0.5" stroke="#ff0a0a" stroke-width="1.15"/>
<line x1="496.6" x2="496.6" y1="271.8" y2="276.2" stroke="#ff0a0a" stroke-width="0.8"/>
<circle cx="496.6" cy="274.0" r="1.5" fill="#ff0a0a" fill-opacity="0.5" stroke="#ff0a0a" stroke-width="1.15"/>
<line x1="501.5" x2="501.5" y1="267.4" y2="271.8" stroke="#ff0a0a" stroke-width="0.8"/>
<circle cx="501.5" cy="269.6" r="1.5" fill="#ff0a0a" fill-opacity="0.5" stroke="#ff0a0a" stroke-width="1.15"/>
<line x1="506.4" x2="506.4" y1="236.1" y2="240.5" stroke="#ff0a0a" stroke-width="0.8"/>
<circle cx="506.4" cy="238.3" r="1.5" fill="#ff0a0a" fill-opacity="0.5" stroke="#ff0a0a" stroke-width="1.15"/>
<line x1="512.0" x2="512.0" y1="211.2" y2="215.6" stroke="#ff0a0a" stroke-width="0.8"/>
<circle cx="512.0" cy="213.4" r="1.5" fill="#ff0a0a" fill-opacity="0.5" stroke="#ff0a0a" stroke-width="1.15"/>
<line x1="524.4" x2="524.4" y1="191.3" y2="195.7" stroke="#ff0a0a" stroke-width="0.8"/>
<circle cx="524.4" cy="193.5" r="1.5" fill="#ff0a0a" fill-opacity="0.5" stroke="#ff0a0a" stroke-width="1.15"/>
<line x1="526.3" x2="526.3" y1="222.8" y2="227.2" stroke="#ff0a0a" stroke-width="0.8"/>
<circle cx="526.3" cy="225.0" r="1.5" fill="#ff0a0a" fill-opacity="0.5" stroke="#ff0a0a" stroke-width="1.15"/>
<line x1="530.5" x2="530.5" y1="228.4" y2="232.8" stroke="#ff0a0a" stroke-width="0.8"/>
<circle cx="530.5" cy="230.6" r="1.5" fill="#ff0a0a" fill-opacity="0.5" stroke="#ff0a0a" stroke-width="1.15"/>
<line x1="521.6" x2="521.6" y1="234.8" y2="239.2" stroke="#ff0a0a" stroke-width="0.8"/>
<circle cx="521.6" cy="237.0" r="1.5" fill="#ff0a0a" fill-opacity="0.5" stroke="#ff0a0a" stroke-width="1.15"/>
<line x1="529.1" x2="529.1" y1="234.8" y2="239.2" stroke="#ff0a0a" stroke-width="0.8"/>
<circle cx="529.1" cy="237.0" r="1.5" fill="#ff0a0a" fill-opacity="0.5" stroke="#ff0a0a" stroke-width="1.15"/>
<line x1="537.4" x2="537.4" y1="256.9" y2="261.3" stroke="#ff0a0a" stroke-width="0.8"/>
<circle cx="537.4" cy="259.1" r="1.5" fill="#ff0a0a" fill-opacity="0.5" stroke="#ff0a0a" stroke-width="1.15"/>
<line x1="554.9" x2="554.9" y1="262.8" y2="267.2" stroke="#ff0a0a" stroke-width="0.8"/>
<circle cx="554.9" cy="265.0" r="1.5" fill="#ff0a0a" fill-opacity="0.5" stroke="#ff0a0a" stroke-width="1.15"/>
<line x1="533.4" x2="533.4" y1="268.4" y2="272.8" stroke="#ff0a0a" stroke-width="0.8"/>
<circle cx="533.4" cy="270.6" r="1.5" fill="#ff0a0a" fill-opacity="0.5" stroke="#ff0a0a" stroke-width="1.15"/>
<line x1="535.6" x2="535.6" y1="270.0" y2="274.4" stroke="#ff0a0a" stroke-width="0.8"/>
<circle cx="535.6" cy="272.2" r="1.5" fill="#ff0a0a" fill-opacity="0.5" stroke="#ff0a0a" stroke-width="1.15"/>
<line x1="540.2" x2="540.2" y1="273.5" y2="277.9" stroke="#ff0a0a" stroke-width="0.8"/>
<circle cx="540.2" cy="275.7" r="1.5" fill="#ff0a0a" fill-opacity="0.5" stroke="#ff0a0a" stroke-width="1.15"/>
<line x1="543.6" x2="543.6" y1="273.9" y2="278.3" stroke="#ff0a0a" stroke-width="0.8"/>
<circle cx="543.6" cy="276.1" r="1.5" fill="#ff0a0a" fill-opacity="0.5" stroke="#ff0a0a" stroke-width="1.15"/>
<line x1="548.2" x2="548.2" y1="278.5" y2="282.9" stroke="#ff0a0a" stroke-width="0.8"/>
<circle cx="548.2" cy="280.7" r="1.5" fill="#ff0a0a" fill-opacity="0.5" stroke="#ff0a0a" stroke-width="1.15"/>
<line x1="551.7" x2="551.7" y1="279.0" y2="283.4" stroke="#ff0a0a" stroke-width="0.8"/>
<circle cx="551.7" cy="281.2" r="1.5" fill="#ff0a0a" fill-opacity="0.5" stroke="#ff0a0a" stroke-width="1.15"/>
<line x1="557.4" x2="557.4" y1="282.0" y2="286.4" stroke="#ff0a0a" stroke-width="0.8"/>
<circle cx="557.4" cy="284.2" r="1.5" fill="#ff0a0a" fill-opacity="0.5" stroke="#ff0a0a" stroke-width="1.15"/>
<line x1="562.0" x2="562.0" y1="282.0" y2="286.4" stroke="#ff0a0a" stroke-width="0.8"/>
<circle cx="562.0" cy="284.2" r="1.5" fill="#ff0a0a" fill-opacity="0.5" stroke="#ff0a0a" stroke-width="1.15"/>
<line x1="544.8" x2="544.8" y1="285.9" y2="290.3" stroke="#ff0a0a" stroke-width="0.8"/>
<circle cx="544.8" cy="288.1" r="1.5" fill="#ff0a0a" fill-opacity="0.5" stroke="#ff0a0a" stroke-width="1.15"/>
<line x1="546.5" x2="546.5" y1="276.3" y2="280.7" stroke="#ff0a0a" stroke-width="0.8"/>
<circle cx="546.5" cy="278.5" r="1.5" fill="#ff0a0a" fill-opacity="0.5" stroke="#ff0a0a" stroke-width="1.15"/>
<line x1="549.3" x2="549.3" y1="279.0" y2="283.4" stroke="#ff0a0a" stroke-width="0.8"/>
<circle cx="549.3" cy="281.2" r="1.5" fill="#ff0a0a" fill-opacity="0.5" stroke="#ff0a0a" stroke-width="1.15"/>
<line x1="559.7" x2="559.7" y1="288.8" y2="293.2" stroke="#ff0a0a" stroke-width="0.8"/>
<circle cx="559.7" cy="291.0" r="1.5" fill="#ff0a0a" fill-opacity="0.5" stroke="#ff0a0a" stroke-width="1.15"/>
<line x1="567.8" x2="567.8" y1="296.9" y2="301.3" stroke="#ff0a0a" stroke-width="0.8"/>
<circle cx="567.8" cy="299.1" r="1.5" fill="#ff0a0a" fill-opacity="0.5" stroke="#ff0a0a" stroke-width="1.15"/>
<line x1="377" x2="512.5" y1="270.3" y2="270.3" stroke="#4db7e8" stroke-width="1.9"/>
<path d="M365.2,270.3 L379.4,266.6 L379.4,274.0 Z" fill="#4db7e8"/>
<text transform="translate(410.70,265.55) scale(0.897,1)" font-size="13.2" text-anchor="start" fill="#4db7e8" stroke="#4db7e8" stroke-width="0.45" >poor mixing</text>
<rect x="313.7" y="28.3" width="256.7" height="150.5" fill="none" stroke="#1a1a1a" stroke-width="0.95"/>
<line x1="360.6" x2="360.6" y1="28.3" y2="36.3" stroke="#1a1a1a" stroke-width="0.9"/>
<line x1="360.6" x2="360.6" y1="178.8" y2="170.8" stroke="#1a1a1a" stroke-width="0.9"/>
<line x1="407.2" x2="407.2" y1="28.3" y2="36.3" stroke="#1a1a1a" stroke-width="0.9"/>
<line x1="407.2" x2="407.2" y1="178.8" y2="170.8" stroke="#1a1a1a" stroke-width="0.9"/>
<line x1="453.8" x2="453.8" y1="28.3" y2="36.3" stroke="#1a1a1a" stroke-width="0.9"/>
<line x1="453.8" x2="453.8" y1="178.8" y2="170.8" stroke="#1a1a1a" stroke-width="0.9"/>
<line x1="500.4" x2="500.4" y1="28.3" y2="36.3" stroke="#1a1a1a" stroke-width="0.9"/>
<line x1="500.4" x2="500.4" y1="178.8" y2="170.8" stroke="#1a1a1a" stroke-width="0.9"/>
<line x1="547.0" x2="547.0" y1="28.3" y2="36.3" stroke="#1a1a1a" stroke-width="0.9"/>
<line x1="547.0" x2="547.0" y1="178.8" y2="170.8" stroke="#1a1a1a" stroke-width="0.9"/>
<rect x="313.7" y="185.9" width="256.7" height="150.2" fill="none" stroke="#1a1a1a" stroke-width="0.95"/>
<line x1="360.6" x2="360.6" y1="185.9" y2="193.9" stroke="#1a1a1a" stroke-width="0.9"/>
<line x1="360.6" x2="360.6" y1="336.1" y2="328.1" stroke="#1a1a1a" stroke-width="0.9"/>
<line x1="407.2" x2="407.2" y1="185.9" y2="193.9" stroke="#1a1a1a" stroke-width="0.9"/>
<line x1="407.2" x2="407.2" y1="336.1" y2="328.1" stroke="#1a1a1a" stroke-width="0.9"/>
<line x1="453.8" x2="453.8" y1="185.9" y2="193.9" stroke="#1a1a1a" stroke-width="0.9"/>
<line x1="453.8" x2="453.8" y1="336.1" y2="328.1" stroke="#1a1a1a" stroke-width="0.9"/>
<line x1="500.4" x2="500.4" y1="185.9" y2="193.9" stroke="#1a1a1a" stroke-width="0.9"/>
<line x1="500.4" x2="500.4" y1="336.1" y2="328.1" stroke="#1a1a1a" stroke-width="0.9"/>
<line x1="547.0" x2="547.0" y1="185.9" y2="193.9" stroke="#1a1a1a" stroke-width="0.9"/>
<line x1="547.0" x2="547.0" y1="336.1" y2="328.1" stroke="#1a1a1a" stroke-width="0.9"/>
<line x1="313.7" x2="318.09999999999997" y1="177.12" y2="177.12" stroke="#1a1a1a" stroke-width="0.95"/>
<line x1="570.4" x2="566.0" y1="177.12" y2="177.12" stroke="#1a1a1a" stroke-width="0.95"/>
<line x1="313.7" x2="318.09999999999997" y1="174.76" y2="174.76" stroke="#1a1a1a" stroke-width="0.95"/>
<line x1="570.4" x2="566.0" y1="174.76" y2="174.76" stroke="#1a1a1a" stroke-width="0.95"/>
<line x1="313.7" x2="318.09999999999997" y1="172.72" y2="172.72" stroke="#1a1a1a" stroke-width="0.95"/>
<line x1="570.4" x2="566.0" y1="172.72" y2="172.72" stroke="#1a1a1a" stroke-width="0.95"/>
<line x1="313.7" x2="318.09999999999997" y1="170.91" y2="170.91" stroke="#1a1a1a" stroke-width="0.95"/>
<line x1="570.4" x2="566.0" y1="170.91" y2="170.91" stroke="#1a1a1a" stroke-width="0.95"/>
<line x1="313.7" x2="322.09999999999997" y1="169.30" y2="169.30" stroke="#1a1a1a" stroke-width="0.95"/>
<line x1="570.4" x2="562.0" y1="169.30" y2="169.30" stroke="#1a1a1a" stroke-width="0.95"/>
<line x1="313.7" x2="318.09999999999997" y1="158.69" y2="158.69" stroke="#1a1a1a" stroke-width="0.95"/>
<line x1="570.4" x2="566.0" y1="158.69" y2="158.69" stroke="#1a1a1a" stroke-width="0.95"/>
<line x1="313.7" x2="318.09999999999997" y1="152.48" y2="152.48" stroke="#1a1a1a" stroke-width="0.95"/>
<line x1="570.4" x2="566.0" y1="152.48" y2="152.48" stroke="#1a1a1a" stroke-width="0.95"/>
<line x1="313.7" x2="318.09999999999997" y1="148.08" y2="148.08" stroke="#1a1a1a" stroke-width="0.95"/>
<line x1="570.4" x2="566.0" y1="148.08" y2="148.08" stroke="#1a1a1a" stroke-width="0.95"/>
<line x1="313.7" x2="318.09999999999997" y1="144.66" y2="144.66" stroke="#1a1a1a" stroke-width="0.95"/>
<line x1="570.4" x2="566.0" y1="144.66" y2="144.66" stroke="#1a1a1a" stroke-width="0.95"/>
<line x1="313.7" x2="318.09999999999997" y1="141.87" y2="141.87" stroke="#1a1a1a" stroke-width="0.95"/>
<line x1="570.4" x2="566.0" y1="141.87" y2="141.87" stroke="#1a1a1a" stroke-width="0.95"/>
<line x1="313.7" x2="318.09999999999997" y1="139.51" y2="139.51" stroke="#1a1a1a" stroke-width="0.95"/>
<line x1="570.4" x2="566.0" y1="139.51" y2="139.51" stroke="#1a1a1a" stroke-width="0.95"/>
<line x1="313.7" x2="318.09999999999997" y1="137.47" y2="137.47" stroke="#1a1a1a" stroke-width="0.95"/>
<line x1="570.4" x2="566.0" y1="137.47" y2="137.47" stroke="#1a1a1a" stroke-width="0.95"/>
<line x1="313.7" x2="318.09999999999997" y1="135.66" y2="135.66" stroke="#1a1a1a" stroke-width="0.95"/>
<line x1="570.4" x2="566.0" y1="135.66" y2="135.66" stroke="#1a1a1a" stroke-width="0.95"/>
<line x1="313.7" x2="322.09999999999997" y1="134.05" y2="134.05" stroke="#1a1a1a" stroke-width="0.95"/>
<line x1="570.4" x2="562.0" y1="134.05" y2="134.05" stroke="#1a1a1a" stroke-width="0.95"/>
<line x1="313.7" x2="318.09999999999997" y1="123.44" y2="123.44" stroke="#1a1a1a" stroke-width="0.95"/>
<line x1="570.4" x2="566.0" y1="123.44" y2="123.44" stroke="#1a1a1a" stroke-width="0.95"/>
<line x1="313.7" x2="318.09999999999997" y1="117.23" y2="117.23" stroke="#1a1a1a" stroke-width="0.95"/>
<line x1="570.4" x2="566.0" y1="117.23" y2="117.23" stroke="#1a1a1a" stroke-width="0.95"/>
<line x1="313.7" x2="318.09999999999997" y1="112.83" y2="112.83" stroke="#1a1a1a" stroke-width="0.95"/>
<line x1="570.4" x2="566.0" y1="112.83" y2="112.83" stroke="#1a1a1a" stroke-width="0.95"/>
<line x1="313.7" x2="318.09999999999997" y1="109.41" y2="109.41" stroke="#1a1a1a" stroke-width="0.95"/>
<line x1="570.4" x2="566.0" y1="109.41" y2="109.41" stroke="#1a1a1a" stroke-width="0.95"/>
<line x1="313.7" x2="318.09999999999997" y1="106.62" y2="106.62" stroke="#1a1a1a" stroke-width="0.95"/>
<line x1="570.4" x2="566.0" y1="106.62" y2="106.62" stroke="#1a1a1a" stroke-width="0.95"/>
<line x1="313.7" x2="318.09999999999997" y1="104.26" y2="104.26" stroke="#1a1a1a" stroke-width="0.95"/>
<line x1="570.4" x2="566.0" y1="104.26" y2="104.26" stroke="#1a1a1a" stroke-width="0.95"/>
<line x1="313.7" x2="318.09999999999997" y1="102.22" y2="102.22" stroke="#1a1a1a" stroke-width="0.95"/>
<line x1="570.4" x2="566.0" y1="102.22" y2="102.22" stroke="#1a1a1a" stroke-width="0.95"/>
<line x1="313.7" x2="318.09999999999997" y1="100.41" y2="100.41" stroke="#1a1a1a" stroke-width="0.95"/>
<line x1="570.4" x2="566.0" y1="100.41" y2="100.41" stroke="#1a1a1a" stroke-width="0.95"/>
<line x1="313.7" x2="322.09999999999997" y1="98.80" y2="98.80" stroke="#1a1a1a" stroke-width="0.95"/>
<line x1="570.4" x2="562.0" y1="98.80" y2="98.80" stroke="#1a1a1a" stroke-width="0.95"/>
<line x1="313.7" x2="318.09999999999997" y1="88.19" y2="88.19" stroke="#1a1a1a" stroke-width="0.95"/>
<line x1="570.4" x2="566.0" y1="88.19" y2="88.19" stroke="#1a1a1a" stroke-width="0.95"/>
<line x1="313.7" x2="318.09999999999997" y1="81.98" y2="81.98" stroke="#1a1a1a" stroke-width="0.95"/>
<line x1="570.4" x2="566.0" y1="81.98" y2="81.98" stroke="#1a1a1a" stroke-width="0.95"/>
<line x1="313.7" x2="318.09999999999997" y1="77.58" y2="77.58" stroke="#1a1a1a" stroke-width="0.95"/>
<line x1="570.4" x2="566.0" y1="77.58" y2="77.58" stroke="#1a1a1a" stroke-width="0.95"/>
<line x1="313.7" x2="318.09999999999997" y1="74.16" y2="74.16" stroke="#1a1a1a" stroke-width="0.95"/>
<line x1="570.4" x2="566.0" y1="74.16" y2="74.16" stroke="#1a1a1a" stroke-width="0.95"/>
<line x1="313.7" x2="318.09999999999997" y1="71.37" y2="71.37" stroke="#1a1a1a" stroke-width="0.95"/>
<line x1="570.4" x2="566.0" y1="71.37" y2="71.37" stroke="#1a1a1a" stroke-width="0.95"/>
<line x1="313.7" x2="318.09999999999997" y1="69.01" y2="69.01" stroke="#1a1a1a" stroke-width="0.95"/>
<line x1="570.4" x2="566.0" y1="69.01" y2="69.01" stroke="#1a1a1a" stroke-width="0.95"/>
<line x1="313.7" x2="318.09999999999997" y1="66.97" y2="66.97" stroke="#1a1a1a" stroke-width="0.95"/>
<line x1="570.4" x2="566.0" y1="66.97" y2="66.97" stroke="#1a1a1a" stroke-width="0.95"/>
<line x1="313.7" x2="318.09999999999997" y1="65.16" y2="65.16" stroke="#1a1a1a" stroke-width="0.95"/>
<line x1="570.4" x2="566.0" y1="65.16" y2="65.16" stroke="#1a1a1a" stroke-width="0.95"/>
<line x1="313.7" x2="322.09999999999997" y1="63.55" y2="63.55" stroke="#1a1a1a" stroke-width="0.95"/>
<line x1="570.4" x2="562.0" y1="63.55" y2="63.55" stroke="#1a1a1a" stroke-width="0.95"/>
<line x1="313.7" x2="318.09999999999997" y1="52.94" y2="52.94" stroke="#1a1a1a" stroke-width="0.95"/>
<line x1="570.4" x2="566.0" y1="52.94" y2="52.94" stroke="#1a1a1a" stroke-width="0.95"/>
<line x1="313.7" x2="318.09999999999997" y1="46.73" y2="46.73" stroke="#1a1a1a" stroke-width="0.95"/>
<line x1="570.4" x2="566.0" y1="46.73" y2="46.73" stroke="#1a1a1a" stroke-width="0.95"/>
<line x1="313.7" x2="318.09999999999997" y1="42.33" y2="42.33" stroke="#1a1a1a" stroke-width="0.95"/>
<line x1="570.4" x2="566.0" y1="42.33" y2="42.33" stroke="#1a1a1a" stroke-width="0.95"/>
<line x1="313.7" x2="318.09999999999997" y1="38.91" y2="38.91" stroke="#1a1a1a" stroke-width="0.95"/>
<line x1="570.4" x2="566.0" y1="38.91" y2="38.91" stroke="#1a1a1a" stroke-width="0.95"/>
<line x1="313.7" x2="318.09999999999997" y1="36.12" y2="36.12" stroke="#1a1a1a" stroke-width="0.95"/>
<line x1="570.4" x2="566.0" y1="36.12" y2="36.12" stroke="#1a1a1a" stroke-width="0.95"/>
<line x1="313.7" x2="318.09999999999997" y1="33.76" y2="33.76" stroke="#1a1a1a" stroke-width="0.95"/>
<line x1="570.4" x2="566.0" y1="33.76" y2="33.76" stroke="#1a1a1a" stroke-width="0.95"/>
<line x1="313.7" x2="318.09999999999997" y1="31.72" y2="31.72" stroke="#1a1a1a" stroke-width="0.95"/>
<line x1="570.4" x2="566.0" y1="31.72" y2="31.72" stroke="#1a1a1a" stroke-width="0.95"/>
<line x1="313.7" x2="318.09999999999997" y1="29.91" y2="29.91" stroke="#1a1a1a" stroke-width="0.95"/>
<line x1="570.4" x2="566.0" y1="29.91" y2="29.91" stroke="#1a1a1a" stroke-width="0.95"/>
<text transform="translate(306.60,174.15) scale(0.845,1)" font-size="9.7" text-anchor="end" fill="#111" stroke="#111" stroke-width="0.45" >10</text>
<text transform="translate(306.90,169.55) scale(0.854,1)" font-size="7.2" text-anchor="start" fill="#111" stroke="#111" stroke-width="0.45" >0</text>
<text transform="translate(306.60,138.90) scale(0.845,1)" font-size="9.7" text-anchor="end" fill="#111" stroke="#111" stroke-width="0.45" >10</text>
<text transform="translate(306.90,134.30) scale(0.854,1)" font-size="7.2" text-anchor="start" fill="#111" stroke="#111" stroke-width="0.45" >1</text>
<text transform="translate(306.60,103.65) scale(0.845,1)" font-size="9.7" text-anchor="end" fill="#111" stroke="#111" stroke-width="0.45" >10</text>
<text transform="translate(306.90,99.05) scale(0.854,1)" font-size="7.2" text-anchor="start" fill="#111" stroke="#111" stroke-width="0.45" >2</text>
<text transform="translate(306.60,68.40) scale(0.845,1)" font-size="9.7" text-anchor="end" fill="#111" stroke="#111" stroke-width="0.45" >10</text>
<text transform="translate(306.90,63.80) scale(0.854,1)" font-size="7.2" text-anchor="start" fill="#111" stroke="#111" stroke-width="0.45" >3</text>
<text transform="translate(306.60,33.15) scale(0.845,1)" font-size="9.7" text-anchor="end" fill="#111" stroke="#111" stroke-width="0.45" >10</text>
<text transform="translate(306.90,28.55) scale(0.854,1)" font-size="7.2" text-anchor="start" fill="#111" stroke="#111" stroke-width="0.45" >4</text>
<line x1="313.7" x2="321.9" y1="310.97" y2="310.97" stroke="#1a1a1a" stroke-width="0.9"/>
<line x1="570.4" x2="563.1999999999999" y1="310.97" y2="310.97" stroke="#1a1a1a" stroke-width="0.9"/>
<line x1="313.7" x2="321.9" y1="285.94" y2="285.94" stroke="#1a1a1a" stroke-width="0.9"/>
<line x1="570.4" x2="563.1999999999999" y1="285.94" y2="285.94" stroke="#1a1a1a" stroke-width="0.9"/>
<line x1="313.7" x2="321.9" y1="260.91" y2="260.91" stroke="#1a1a1a" stroke-width="0.9"/>
<line x1="570.4" x2="563.1999999999999" y1="260.91" y2="260.91" stroke="#1a1a1a" stroke-width="0.9"/>
<line x1="313.7" x2="321.9" y1="235.88" y2="235.88" stroke="#1a1a1a" stroke-width="0.9"/>
<line x1="570.4" x2="563.1999999999999" y1="235.88" y2="235.88" stroke="#1a1a1a" stroke-width="0.9"/>
<line x1="313.7" x2="321.9" y1="210.85" y2="210.85" stroke="#1a1a1a" stroke-width="0.9"/>
<line x1="570.4" x2="563.1999999999999" y1="210.85" y2="210.85" stroke="#1a1a1a" stroke-width="0.9"/>
<text transform="translate(309.90,339.35) scale(0.848,1)" font-size="8.7" text-anchor="end" fill="#111" stroke="#111" stroke-width="0.4" >0</text>
<text transform="translate(309.90,314.32) scale(0.848,1)" font-size="8.7" text-anchor="end" fill="#111" stroke="#111" stroke-width="0.4" >20</text>
<text transform="translate(309.90,289.29) scale(0.848,1)" font-size="8.7" text-anchor="end" fill="#111" stroke="#111" stroke-width="0.4" >40</text>
<text transform="translate(309.90,264.26) scale(0.848,1)" font-size="8.7" text-anchor="end" fill="#111" stroke="#111" stroke-width="0.4" >60</text>
<text transform="translate(309.90,239.23) scale(0.848,1)" font-size="8.7" text-anchor="end" fill="#111" stroke="#111" stroke-width="0.4" >80</text>
<text transform="translate(309.90,214.20) scale(0.848,1)" font-size="8.7" text-anchor="end" fill="#111" stroke="#111" stroke-width="0.4" >100</text>
<text transform="translate(309.90,189.17) scale(0.848,1)" font-size="8.7" text-anchor="end" fill="#111" stroke="#111" stroke-width="0.4" >120</text>
<text transform="translate(314.00,348.05) scale(0.847,1)" font-size="9.2" text-anchor="middle" fill="#111" stroke="#111" stroke-width="0.4" >0</text>
<text transform="translate(360.60,348.05) scale(0.847,1)" font-size="9.2" text-anchor="middle" fill="#111" stroke="#111" stroke-width="0.4" >0.2</text>
<text transform="translate(407.20,348.05) scale(0.847,1)" font-size="9.2" text-anchor="middle" fill="#111" stroke="#111" stroke-width="0.4" >0.4</text>
<text transform="translate(453.80,348.05) scale(0.847,1)" font-size="9.2" text-anchor="middle" fill="#111" stroke="#111" stroke-width="0.4" >0.6</text>
<text transform="translate(500.40,348.05) scale(0.847,1)" font-size="9.2" text-anchor="middle" fill="#111" stroke="#111" stroke-width="0.4" >0.8</text>
<text transform="translate(547.00,348.05) scale(0.847,1)" font-size="9.2" text-anchor="middle" fill="#111" stroke="#111" stroke-width="0.4" >1</text>
<text transform="translate(322.40,174.75) scale(0.844,1)" font-size="10.2" text-anchor="start" fill="#111" stroke="#111" stroke-width="0.45" >(f)</text>
<text transform="translate(322.40,314.75) scale(0.844,1)" font-size="10.2" text-anchor="start" fill="#111" stroke="#111" stroke-width="0.45" >(g)</text>
<text transform="translate(290.40,102.95) rotate(-90) scale(0.843,1)" font-size="10.7" text-anchor="middle" fill="#111" stroke="#111" stroke-width="0.45" >T<tspan font-size="8" dy="2.5">e</tspan><tspan dy="-2.5"> [eV]</tspan></text>
<text transform="translate(289.20,262.35) rotate(-90) scale(0.895,1)" font-size="10.5" text-anchor="middle" fill="#111" stroke="#111" stroke-width="0.45" >n<tspan font-size="8" dy="2.5">e</tspan><tspan dy="-2.5"> [10</tspan><tspan font-size="7" dy="-5.6">19</tspan><tspan dy="5.6">/m</tspan><tspan font-size="7" dy="-5.6">3</tspan><tspan dy="5.6">]</tspan></text>
<text x="421.2" y="359.4" style="font-family:'Liberation Serif','DejaVu Serif',serif;font-weight:normal;font-style:italic" font-size="12.5" fill="#333">ψ</text>
<text transform="translate(429.70,365.15) scale(0.845,1)" font-size="9.7" text-anchor="start" fill="#111" stroke="#111" stroke-width="0.45" >norm</text>
<text transform="translate(482.40,23.85) scale(0.845,1)" font-size="9.7" text-anchor="start" fill="#111" stroke="#111" stroke-width="0.45" >q=2</text>
<text transform="translate(571.20,24.85) scale(0.844,1)" font-size="10.2" text-anchor="end" fill="#111" stroke="#111" stroke-width="0.45" >#186581</text>
<path d="M401.4,26.4 L481.5,19.9" fill="none" stroke="#4db7e8" stroke-width="0.8" stroke-dasharray="4 2.5"/>
<path d="M454.2,27.4 L463.5,24.2 L481.5,22.6" fill="none" stroke="#12b012" stroke-width="0.8" stroke-dasharray="4 2.5"/>
<rect x="575.6" y="28.6" width="39.6" height="64" fill="#fff" stroke="#222" stroke-width="0.9"/>
<line x1="575.6" x2="615.2" y1="41.0" y2="41.0" stroke="#777" stroke-width="0.9"/>
<text transform="translate(582.80,35.95) scale(0.858,1)" font-size="6.5" text-anchor="start" fill="#111" stroke="#111" stroke-width="0.3" >t-t<tspan font-size="5.0" dy="2.7">Dis</tspan><tspan dy="-2.7"> [ms]</tspan></text>
<line x1="586.3" x2="586.3" y1="42.8" y2="49.2" stroke="#111" stroke-width="0.9"/>
<circle cx="586.3" cy="46.0" r="1.65" fill="none" stroke="#111" stroke-width="1.1"/>
<text transform="translate(597.00,48.25) scale(0.857,1)" font-size="6.6" text-anchor="start" fill="#111" stroke="#111" stroke-width="0.3" >-18.89</text>
<line x1="586.3" x2="586.3" y1="51.0" y2="57.4" stroke="#ff0a0a" stroke-width="0.9"/>
<circle cx="586.3" cy="54.2" r="1.65" fill="none" stroke="#ff0a0a" stroke-width="1.1"/>
<text transform="translate(597.00,56.45) scale(0.857,1)" font-size="6.6" text-anchor="start" fill="#111" stroke="#111" stroke-width="0.3" >-2.89</text>
<line x1="586.3" x2="586.3" y1="59.2" y2="65.6" stroke="#ff8a14" stroke-width="0.9"/>
<circle cx="586.3" cy="62.4" r="1.65" fill="none" stroke="#ff8a14" stroke-width="1.1"/>
<text transform="translate(597.00,64.65) scale(0.857,1)" font-size="6.6" text-anchor="start" fill="#111" stroke="#111" stroke-width="0.3" >-1.90</text>
<line x1="586.3" x2="586.3" y1="67.4" y2="73.8" stroke="#ffdc00" stroke-width="0.9"/>
<path d="M586.3,68.6 L588.5,72.6 L584.1,72.6 Z" fill="#ffdc00" stroke="#ffdc00" stroke-width="0.6" stroke-linejoin="round"/>
<text transform="translate(597.00,72.85) scale(0.857,1)" font-size="6.6" text-anchor="start" fill="#111" stroke="#111" stroke-width="0.3" >-0.89</text>
<line x1="586.3" x2="586.3" y1="75.6" y2="82.0" stroke="#12b012" stroke-width="0.9"/>
<path d="M586.3,76.8 L588.5,80.8 L584.1,80.8 Z" fill="#12b012" stroke="#12b012" stroke-width="0.6" stroke-linejoin="round"/>
<text transform="translate(597.00,81.05) scale(0.857,1)" font-size="6.6" text-anchor="start" fill="#111" stroke="#111" stroke-width="0.3" >0.10</text>
<line x1="586.3" x2="586.3" y1="83.8" y2="90.2" stroke="#4db7e8" stroke-width="0.9"/>
<circle cx="586.3" cy="87.0" r="1.65" fill="none" stroke="#4db7e8" stroke-width="1.1"/>
<text transform="translate(597.00,89.25) scale(0.857,1)" font-size="6.6" text-anchor="start" fill="#111" stroke="#111" stroke-width="0.3" >1.11</text>
<rect x="575.6" y="186.4" width="39.6" height="64" fill="#fff" stroke="#222" stroke-width="0.9"/>
<line x1="575.6" x2="615.2" y1="198.8" y2="198.8" stroke="#777" stroke-width="0.9"/>
<text transform="translate(582.80,193.75) scale(0.858,1)" font-size="6.5" text-anchor="start" fill="#111" stroke="#111" stroke-width="0.3" >t-t<tspan font-size="5.0" dy="2.7">Dis</tspan><tspan dy="-2.7"> [ms]</tspan></text>
<line x1="586.3" x2="586.3" y1="200.6" y2="207.0" stroke="#111" stroke-width="0.9"/>
<circle cx="586.3" cy="203.8" r="1.65" fill="none" stroke="#111" stroke-width="1.1"/>
<text transform="translate(597.00,206.05) scale(0.857,1)" font-size="6.6" text-anchor="start" fill="#111" stroke="#111" stroke-width="0.3" >-18.89</text>
<line x1="586.3" x2="586.3" y1="208.8" y2="215.2" stroke="#ff0a0a" stroke-width="0.9"/>
<circle cx="586.3" cy="212.0" r="1.65" fill="none" stroke="#ff0a0a" stroke-width="1.1"/>
<text transform="translate(597.00,214.25) scale(0.857,1)" font-size="6.6" text-anchor="start" fill="#111" stroke="#111" stroke-width="0.3" >-2.89</text>
<line x1="586.3" x2="586.3" y1="217.0" y2="223.4" stroke="#ff8a14" stroke-width="0.9"/>
<circle cx="586.3" cy="220.2" r="1.65" fill="none" stroke="#ff8a14" stroke-width="1.1"/>
<text transform="translate(597.00,222.45) scale(0.857,1)" font-size="6.6" text-anchor="start" fill="#111" stroke="#111" stroke-width="0.3" >-1.90</text>
<line x1="586.3" x2="586.3" y1="225.2" y2="231.6" stroke="#ffdc00" stroke-width="0.9"/>
<path d="M586.3,226.4 L588.5,230.4 L584.1,230.4 Z" fill="#ffdc00" stroke="#ffdc00" stroke-width="0.6" stroke-linejoin="round"/>
<text transform="translate(597.00,230.65) scale(0.857,1)" font-size="6.6" text-anchor="start" fill="#111" stroke="#111" stroke-width="0.3" >-0.89</text>
<line x1="586.3" x2="586.3" y1="233.4" y2="239.8" stroke="#12b012" stroke-width="0.9"/>
<path d="M586.3,234.6 L588.5,238.6 L584.1,238.6 Z" fill="#12b012" stroke="#12b012" stroke-width="0.6" stroke-linejoin="round"/>
<text transform="translate(597.00,238.85) scale(0.857,1)" font-size="6.6" text-anchor="start" fill="#111" stroke="#111" stroke-width="0.3" >0.10</text>
<line x1="586.3" x2="586.3" y1="241.6" y2="248.0" stroke="#4db7e8" stroke-width="0.9"/>
<circle cx="586.3" cy="244.8" r="1.65" fill="none" stroke="#4db7e8" stroke-width="1.1"/>
<text transform="translate(597.00,247.05) scale(0.857,1)" font-size="6.6" text-anchor="start" fill="#111" stroke="#111" stroke-width="0.3" >1.11</text>
</svg>
</body></html>
